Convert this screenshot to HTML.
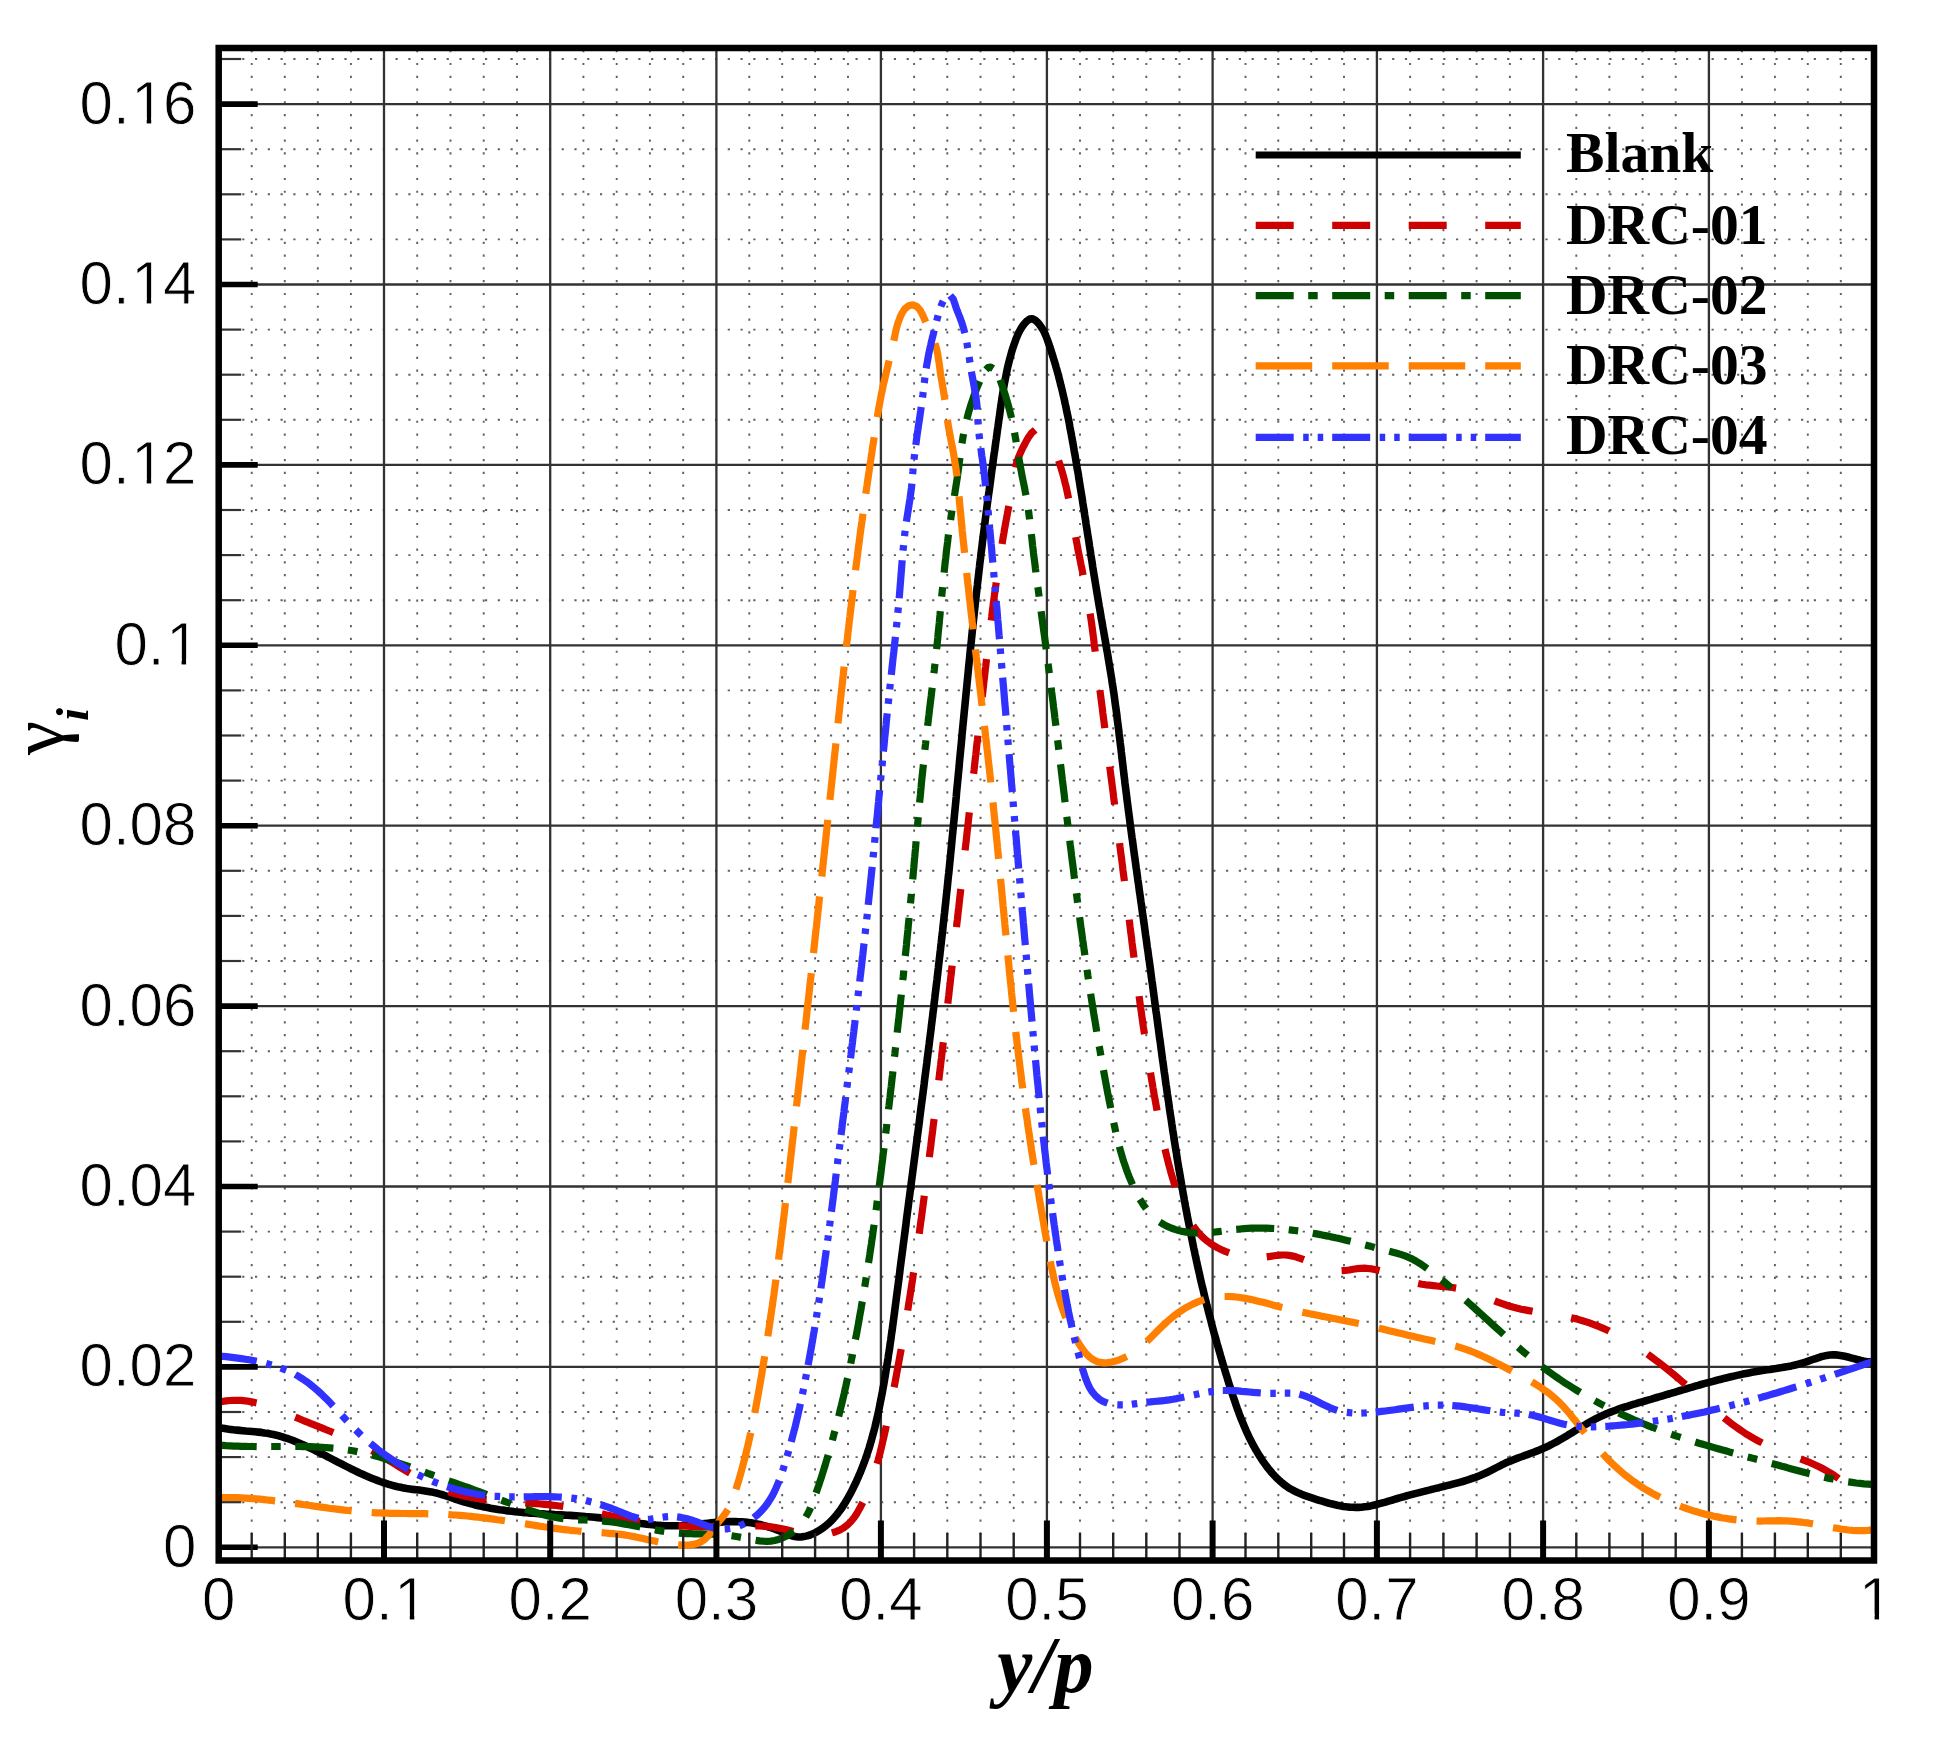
<!DOCTYPE html>
<html lang="en"><head><meta charset="utf-8"><title>Chart</title>
<style>html,body{margin:0;padding:0;background:#fff}svg{display:block}.tk{font-family:"Liberation Sans",sans-serif;font-size:60px;fill:#000;stroke:#fff;stroke-width:0.8px}.lg{font-family:"Liberation Serif",serif;font-weight:bold;font-size:57.6px;fill:#000}.ax{font-family:"Liberation Serif",serif;font-weight:bold;font-style:italic;fill:#000}</style></head><body>
<svg width="1935" height="1750" viewBox="0 0 1935 1750">
<rect width="1935" height="1750" fill="#fff"/>
<defs><filter id="soft" filterUnits="userSpaceOnUse" x="0" y="0" width="1935" height="1750"><feGaussianBlur stdDeviation="0.55"/></filter></defs>
<g filter="url(#soft)">
<defs><clipPath id="plot"><rect x="218.7" y="48.0" width="1655.3" height="1512.5"/></clipPath></defs>
<g stroke="#606060" stroke-width="1.9" fill="none" stroke-dasharray="2.2 10.577" clip-path="url(#plot)">
<path d="M251.7,37.35V1560.5"/>
<path d="M284.8,37.35V1560.5"/>
<path d="M317.8,37.35V1560.5"/>
<path d="M350.9,37.35V1560.5"/>
<path d="M417.2,37.35V1560.5"/>
<path d="M450.5,37.35V1560.5"/>
<path d="M483.7,37.35V1560.5"/>
<path d="M517.0,37.35V1560.5"/>
<path d="M583.4,37.35V1560.5"/>
<path d="M616.7,37.35V1560.5"/>
<path d="M649.9,37.35V1560.5"/>
<path d="M683.2,37.35V1560.5"/>
<path d="M749.3,37.35V1560.5"/>
<path d="M782.2,37.35V1560.5"/>
<path d="M815.1,37.35V1560.5"/>
<path d="M848.0,37.35V1560.5"/>
<path d="M914.1,37.35V1560.5"/>
<path d="M947.3,37.35V1560.5"/>
<path d="M980.5,37.35V1560.5"/>
<path d="M1013.7,37.35V1560.5"/>
<path d="M1080.0,37.35V1560.5"/>
<path d="M1113.2,37.35V1560.5"/>
<path d="M1146.3,37.35V1560.5"/>
<path d="M1179.5,37.35V1560.5"/>
<path d="M1245.5,37.35V1560.5"/>
<path d="M1278.3,37.35V1560.5"/>
<path d="M1311.2,37.35V1560.5"/>
<path d="M1344.0,37.35V1560.5"/>
<path d="M1410.1,37.35V1560.5"/>
<path d="M1443.4,37.35V1560.5"/>
<path d="M1476.6,37.35V1560.5"/>
<path d="M1509.9,37.35V1560.5"/>
<path d="M1576.3,37.35V1560.5"/>
<path d="M1609.4,37.35V1560.5"/>
<path d="M1642.6,37.35V1560.5"/>
<path d="M1675.7,37.35V1560.5"/>
<path d="M1741.9,37.35V1560.5"/>
<path d="M1774.9,37.35V1560.5"/>
<path d="M1807.8,37.35V1560.5"/>
<path d="M1840.8,37.35V1560.5"/>
<path d="M242.20,1502.2H1874.0"/>
<path d="M242.20,1457.1H1874.0"/>
<path d="M242.20,1412.0H1874.0"/>
<path d="M242.20,1321.8H1874.0"/>
<path d="M242.20,1276.7H1874.0"/>
<path d="M242.20,1231.6H1874.0"/>
<path d="M242.20,1141.4H1874.0"/>
<path d="M242.20,1096.3H1874.0"/>
<path d="M242.20,1051.2H1874.0"/>
<path d="M242.20,961.0H1874.0"/>
<path d="M242.20,915.9H1874.0"/>
<path d="M242.20,870.8H1874.0"/>
<path d="M242.20,780.6H1874.0"/>
<path d="M242.20,735.5H1874.0"/>
<path d="M242.20,690.4H1874.0"/>
<path d="M242.20,600.2H1874.0"/>
<path d="M242.20,555.1H1874.0"/>
<path d="M242.20,510.0H1874.0"/>
<path d="M242.20,419.8H1874.0"/>
<path d="M242.20,374.7H1874.0"/>
<path d="M242.20,329.6H1874.0"/>
<path d="M242.20,239.4H1874.0"/>
<path d="M242.20,194.3H1874.0"/>
<path d="M242.20,149.2H1874.0"/>
<path d="M242.20,59.0H1874.0"/>
</g>
<g stroke="#333" stroke-width="2.3" fill="none">
<path d="M384.0,48.0V1560.5"/>
<path d="M550.2,48.0V1560.5"/>
<path d="M716.4,48.0V1560.5"/>
<path d="M880.9,48.0V1560.5"/>
<path d="M1046.9,48.0V1560.5"/>
<path d="M1212.6,48.0V1560.5"/>
<path d="M1376.9,48.0V1560.5"/>
<path d="M1543.1,48.0V1560.5"/>
<path d="M1708.9,48.0V1560.5"/>
<path d="M218.7,1547.3H1874.0"/>
<path d="M218.7,1366.9H1874.0"/>
<path d="M218.7,1186.5H1874.0"/>
<path d="M218.7,1006.1H1874.0"/>
<path d="M218.7,825.7H1874.0"/>
<path d="M218.7,645.3H1874.0"/>
<path d="M218.7,464.9H1874.0"/>
<path d="M218.7,284.5H1874.0"/>
<path d="M218.7,104.1H1874.0"/>
</g>
<g fill="none" stroke-width="7.2" stroke-linejoin="round" clip-path="url(#plot)">
<path stroke="#000" stroke-width="7.6" d="M218.5,1427.3 L221.5,1428.0 L224.5,1428.5 L227.5,1429.0 L230.5,1429.4 L233.6,1429.8 L236.7,1430.1 L239.8,1430.4 L242.8,1430.7 L245.9,1431.0 L249.0,1431.2 L252.1,1431.5 L255.2,1431.8 L258.3,1432.1 L261.4,1432.4 L264.4,1432.9 L267.5,1433.3 L270.5,1433.9 L273.5,1434.5 L276.4,1435.2 L279.4,1436.0 L282.3,1436.8 L285.2,1437.8 L288.1,1438.7 L291.0,1439.8 L293.9,1440.9 L296.7,1442.0 L299.5,1443.2 L302.4,1444.4 L305.2,1445.7 L308.0,1447.0 L310.7,1448.3 L313.5,1449.6 L316.3,1451.0 L319.0,1452.4 L321.8,1453.8 L324.6,1455.2 L327.3,1456.6 L330.0,1458.0 L332.8,1459.5 L335.5,1460.9 L338.3,1462.3 L341.0,1463.7 L343.8,1465.1 L346.5,1466.5 L349.3,1467.9 L352.0,1469.3 L354.8,1470.6 L357.6,1472.0 L360.3,1473.3 L363.1,1474.5 L365.9,1475.8 L368.7,1477.0 L371.6,1478.2 L374.4,1479.3 L377.2,1480.4 L380.1,1481.5 L383.0,1482.5 L385.9,1483.4 L388.8,1484.3 L391.7,1485.2 L394.7,1486.0 L397.7,1486.7 L400.7,1487.3 L403.7,1487.9 L406.7,1488.5 L409.8,1488.9 L412.9,1489.4 L416.0,1489.7 L419.1,1490.1 L422.2,1490.5 L425.2,1490.9 L428.3,1491.4 L431.4,1491.9 L434.4,1492.6 L437.4,1493.3 L440.3,1494.1 L443.3,1495.0 L446.2,1496.0 L449.1,1497.0 L452.0,1498.0 L454.9,1499.0 L457.8,1499.9 L460.7,1500.9 L463.7,1501.8 L466.6,1502.6 L469.6,1503.4 L472.6,1504.2 L475.5,1505.0 L478.5,1505.7 L481.5,1506.3 L484.5,1507.0 L487.5,1507.6 L490.6,1508.2 L493.6,1508.7 L496.6,1509.2 L499.7,1509.7 L502.7,1510.1 L505.8,1510.6 L508.8,1510.9 L511.9,1511.3 L514.9,1511.7 L518.0,1512.0 L521.1,1512.3 L524.1,1512.6 L527.2,1512.8 L530.2,1513.1 L533.3,1513.3 L536.4,1513.5 L539.4,1513.7 L542.5,1513.9 L545.6,1514.1 L548.7,1514.2 L551.7,1514.4 L554.8,1514.6 L557.9,1514.7 L560.9,1514.9 L564.0,1515.1 L567.1,1515.3 L570.1,1515.4 L573.2,1515.6 L576.3,1515.8 L579.3,1516.0 L582.4,1516.2 L585.5,1516.5 L588.5,1516.7 L591.6,1517.0 L594.6,1517.3 L597.7,1517.6 L600.8,1517.9 L603.8,1518.3 L606.9,1518.7 L609.9,1519.1 L613.0,1519.5 L616.0,1519.9 L619.1,1520.4 L622.2,1520.8 L625.2,1521.3 L628.3,1521.7 L631.3,1522.1 L634.4,1522.6 L637.4,1523.0 L640.5,1523.4 L643.5,1523.8 L646.6,1524.2 L649.6,1524.5 L652.7,1524.8 L655.8,1525.1 L658.8,1525.3 L661.9,1525.5 L664.9,1525.7 L668.0,1525.8 L671.1,1525.8 L674.1,1525.8 L677.2,1525.8 L680.3,1525.7 L683.3,1525.5 L686.4,1525.3 L689.5,1525.0 L692.6,1524.8 L695.6,1524.5 L698.7,1524.2 L701.8,1523.8 L704.9,1523.5 L708.0,1523.2 L711.0,1522.9 L714.1,1522.6 L717.2,1522.3 L720.2,1522.1 L723.3,1521.9 L726.4,1521.7 L729.5,1521.6 L732.5,1521.6 L735.6,1521.6 L738.6,1521.7 L741.7,1521.9 L744.7,1522.1 L747.8,1522.4 L750.8,1522.8 L753.8,1523.3 L756.9,1523.9 L759.9,1524.5 L762.9,1525.3 L765.8,1526.1 L768.8,1527.0 L771.8,1527.9 L774.7,1529.0 L777.6,1530.1 L780.5,1531.3 L783.4,1532.5 L786.2,1533.7 L789.1,1534.9 L792.0,1535.8 L794.9,1536.6 L797.9,1537.0 L800.9,1537.0 L803.9,1536.6 L807.0,1535.9 L810.0,1535.0 L812.9,1533.8 L815.8,1532.4 L818.6,1530.8 L821.2,1529.1 L823.8,1527.3 L826.2,1525.4 L828.6,1523.4 L830.8,1521.3 L832.9,1519.1 L835.0,1516.8 L837.0,1514.4 L838.8,1512.0 L840.7,1509.5 L842.4,1507.0 L844.1,1504.4 L845.7,1501.7 L847.3,1499.1 L848.8,1496.4 L850.3,1493.7 L851.7,1491.0 L853.1,1488.2 L854.4,1485.5 L855.8,1482.7 L857.0,1479.9 L858.3,1477.1 L859.5,1474.3 L860.7,1471.5 L861.8,1468.6 L862.9,1465.8 L864.0,1462.9 L865.1,1460.0 L866.1,1457.1 L867.1,1454.2 L868.0,1451.3 L869.0,1448.4 L869.9,1445.5 L870.7,1442.5 L871.6,1439.6 L872.4,1436.6 L873.2,1433.6 L874.0,1430.7 L874.8,1427.7 L875.5,1424.7 L876.2,1421.7 L876.9,1418.7 L877.6,1415.7 L878.3,1412.7 L878.9,1409.7 L879.5,1406.6 L880.1,1403.6 L880.7,1400.6 L881.3,1397.6 L881.9,1394.5 L882.5,1391.5 L883.0,1388.5 L883.6,1385.4 L884.1,1382.4 L884.6,1379.3 L885.1,1376.3 L885.6,1373.3 L886.1,1370.2 L886.6,1367.2 L887.1,1364.1 L887.6,1361.1 L888.1,1358.1 L888.5,1355.0 L889.0,1352.0 L889.5,1348.9 L889.9,1345.9 L890.3,1342.8 L890.8,1339.8 L891.2,1336.7 L891.6,1333.7 L892.1,1330.7 L892.5,1327.6 L892.9,1324.6 L893.3,1321.5 L893.7,1318.5 L894.1,1315.4 L894.5,1312.4 L894.9,1309.3 L895.3,1306.3 L895.7,1303.2 L896.1,1300.2 L896.5,1297.1 L896.9,1294.1 L897.3,1291.0 L897.7,1288.0 L898.1,1284.9 L898.5,1281.9 L898.9,1278.9 L899.3,1275.8 L899.7,1272.8 L900.0,1269.7 L900.4,1266.7 L900.8,1263.6 L901.2,1260.6 L901.6,1257.5 L902.0,1254.5 L902.4,1251.4 L902.8,1248.4 L903.2,1245.3 L903.6,1242.3 L904.0,1239.2 L904.4,1236.2 L904.8,1233.1 L905.2,1230.1 L905.6,1227.0 L906.0,1224.0 L906.3,1220.9 L906.7,1217.9 L907.1,1214.8 L907.5,1211.8 L907.9,1208.7 L908.3,1205.7 L908.7,1202.6 L909.1,1199.6 L909.5,1196.5 L909.9,1193.5 L910.3,1190.5 L910.7,1187.4 L911.1,1184.4 L911.5,1181.3 L911.9,1178.3 L912.3,1175.2 L912.7,1172.2 L913.1,1169.1 L913.5,1166.1 L913.9,1163.0 L914.3,1160.0 L914.7,1156.9 L915.1,1153.9 L915.5,1150.8 L915.9,1147.8 L916.3,1144.7 L916.7,1141.7 L917.1,1138.6 L917.5,1135.6 L917.9,1132.5 L918.3,1129.5 L918.7,1126.4 L919.1,1123.4 L919.5,1120.3 L919.8,1117.3 L920.2,1114.2 L920.6,1111.2 L921.0,1108.1 L921.4,1105.1 L921.8,1102.0 L922.2,1099.0 L922.6,1095.9 L923.0,1092.9 L923.4,1089.8 L923.8,1086.8 L924.2,1083.7 L924.5,1080.7 L924.9,1077.6 L925.3,1074.6 L925.7,1071.5 L926.1,1068.5 L926.5,1065.4 L926.9,1062.4 L927.2,1059.3 L927.6,1056.3 L928.0,1053.2 L928.4,1050.1 L928.8,1047.1 L929.2,1044.0 L929.5,1041.0 L929.9,1037.9 L930.3,1034.9 L930.7,1031.8 L931.1,1028.8 L931.4,1025.7 L931.8,1022.7 L932.2,1019.6 L932.6,1016.6 L932.9,1013.5 L933.3,1010.5 L933.7,1007.4 L934.0,1004.4 L934.4,1001.3 L934.8,998.2 L935.1,995.2 L935.5,992.1 L935.9,989.1 L936.2,986.0 L936.6,983.0 L937.0,979.9 L937.3,976.9 L937.7,973.8 L938.0,970.8 L938.4,967.7 L938.7,964.6 L939.1,961.6 L939.4,958.5 L939.8,955.5 L940.1,952.4 L940.5,949.4 L940.8,946.3 L941.2,943.2 L941.5,940.2 L941.9,937.1 L942.2,934.1 L942.6,931.0 L942.9,928.0 L943.2,924.9 L943.6,921.8 L943.9,918.8 L944.2,915.7 L944.6,912.7 L944.9,909.6 L945.2,906.6 L945.6,903.5 L945.9,900.4 L946.2,897.4 L946.5,894.3 L946.9,891.3 L947.2,888.2 L947.5,885.1 L947.8,882.1 L948.1,879.0 L948.4,876.0 L948.8,872.9 L949.1,869.8 L949.4,866.8 L949.7,863.7 L950.0,860.7 L950.3,857.6 L950.6,854.5 L950.9,851.5 L951.2,848.4 L951.5,845.3 L951.8,842.3 L952.1,839.2 L952.4,836.2 L952.7,833.1 L953.0,830.0 L953.3,827.0 L953.6,823.9 L953.9,820.8 L954.2,817.8 L954.5,814.7 L954.8,811.7 L955.1,808.6 L955.4,805.5 L955.7,802.5 L956.0,799.4 L956.3,796.3 L956.5,793.3 L956.8,790.2 L957.1,787.2 L957.4,784.1 L957.7,781.0 L958.0,778.0 L958.3,774.9 L958.6,771.8 L958.9,768.8 L959.2,765.7 L959.4,762.7 L959.7,759.6 L960.0,756.5 L960.3,753.5 L960.6,750.4 L960.9,747.3 L961.2,744.3 L961.5,741.2 L961.8,738.2 L962.0,735.1 L962.3,732.0 L962.6,729.0 L962.9,725.9 L963.2,722.8 L963.5,719.8 L963.8,716.7 L964.1,713.7 L964.4,710.6 L964.7,707.5 L965.0,704.5 L965.3,701.4 L965.6,698.3 L965.9,695.3 L966.2,692.2 L966.5,689.2 L966.8,686.1 L967.1,683.0 L967.4,680.0 L967.7,676.9 L968.0,673.9 L968.3,670.8 L968.6,667.7 L968.9,664.7 L969.2,661.6 L969.5,658.6 L969.8,655.5 L970.1,652.4 L970.4,649.4 L970.7,646.3 L971.1,643.3 L971.4,640.2 L971.7,637.1 L972.0,634.1 L972.3,631.0 L972.7,628.0 L973.0,624.9 L973.3,621.9 L973.6,618.8 L974.0,615.7 L974.3,612.7 L974.6,609.6 L975.0,606.6 L975.3,603.5 L975.6,600.5 L976.0,597.4 L976.3,594.3 L976.7,591.3 L977.0,588.2 L977.4,585.2 L977.7,582.1 L978.1,579.1 L978.4,576.0 L978.8,573.0 L979.1,569.9 L979.5,566.9 L979.8,563.8 L980.2,560.8 L980.6,557.7 L980.9,554.6 L981.3,551.6 L981.7,548.5 L982.1,545.5 L982.4,542.4 L982.8,539.4 L983.2,536.3 L983.6,533.3 L984.0,530.2 L984.4,527.2 L984.8,524.1 L985.1,521.1 L985.5,518.0 L985.9,515.0 L986.3,511.9 L986.7,508.9 L987.1,505.8 L987.5,502.8 L987.9,499.8 L988.3,496.7 L988.7,493.7 L989.2,490.6 L989.6,487.6 L990.0,484.5 L990.4,481.5 L990.8,478.4 L991.2,475.4 L991.6,472.3 L992.0,469.3 L992.5,466.2 L992.9,463.2 L993.3,460.1 L993.7,457.1 L994.1,454.0 L994.6,451.0 L995.0,447.9 L995.4,444.9 L995.8,441.8 L996.3,438.8 L996.7,435.7 L997.1,432.7 L997.5,429.6 L998.0,426.6 L998.4,423.5 L998.8,420.5 L999.3,417.4 L999.7,414.4 L1000.1,411.3 L1000.5,408.3 L1001.0,405.2 L1001.4,402.2 L1001.9,399.2 L1002.3,396.1 L1002.8,393.1 L1003.3,390.0 L1003.8,387.0 L1004.3,384.0 L1004.9,381.0 L1005.5,377.9 L1006.1,374.9 L1006.7,371.9 L1007.3,368.9 L1008.0,365.9 L1008.7,363.0 L1009.5,360.0 L1010.3,357.0 L1011.1,354.1 L1011.9,351.1 L1012.8,348.2 L1013.8,345.3 L1014.8,342.4 L1015.8,339.5 L1017.0,336.6 L1018.2,333.7 L1019.6,331.0 L1021.1,328.3 L1022.9,325.6 L1024.9,323.1 L1027.2,320.8 L1029.7,319.1 L1032.3,318.8 L1034.8,319.9 L1037.1,321.9 L1039.3,324.3 L1041.1,326.9 L1042.8,329.5 L1044.3,332.3 L1045.6,335.1 L1046.7,338.0 L1047.8,340.9 L1048.8,343.8 L1049.8,346.7 L1050.8,349.7 L1051.7,352.6 L1052.6,355.5 L1053.5,358.5 L1054.4,361.4 L1055.3,364.3 L1056.1,367.3 L1057.0,370.2 L1057.8,373.2 L1058.6,376.1 L1059.3,379.1 L1060.1,382.1 L1060.8,385.1 L1061.6,388.0 L1062.3,391.0 L1063.0,394.0 L1063.7,397.0 L1064.4,400.0 L1065.0,403.0 L1065.7,406.0 L1066.3,409.0 L1066.9,412.1 L1067.6,415.1 L1068.2,418.1 L1068.8,421.1 L1069.4,424.1 L1069.9,427.2 L1070.5,430.2 L1071.1,433.2 L1071.6,436.2 L1072.2,439.3 L1072.7,442.3 L1073.3,445.3 L1073.8,448.4 L1074.3,451.4 L1074.9,454.4 L1075.4,457.5 L1075.9,460.5 L1076.4,463.5 L1076.9,466.6 L1077.4,469.6 L1078.0,472.6 L1078.5,475.7 L1078.9,478.7 L1079.4,481.7 L1079.9,484.8 L1080.4,487.8 L1080.9,490.9 L1081.4,493.9 L1081.9,496.9 L1082.4,500.0 L1082.8,503.0 L1083.3,506.0 L1083.8,509.1 L1084.3,512.1 L1084.7,515.1 L1085.2,518.2 L1085.7,521.2 L1086.1,524.3 L1086.6,527.3 L1087.1,530.3 L1087.5,533.4 L1088.0,536.4 L1088.5,539.4 L1089.0,542.5 L1089.4,545.5 L1089.9,548.6 L1090.4,551.6 L1090.8,554.6 L1091.3,557.7 L1091.8,560.7 L1092.3,563.7 L1092.7,566.8 L1093.2,569.8 L1093.7,572.9 L1094.2,575.9 L1094.7,578.9 L1095.2,582.0 L1095.7,585.0 L1096.2,588.0 L1096.7,591.1 L1097.2,594.1 L1097.7,597.1 L1098.2,600.2 L1098.7,603.2 L1099.2,606.2 L1099.8,609.3 L1100.3,612.3 L1100.8,615.3 L1101.3,618.4 L1101.9,621.4 L1102.4,624.4 L1102.9,627.4 L1103.5,630.5 L1104.0,633.5 L1104.5,636.5 L1105.1,639.6 L1105.6,642.6 L1106.1,645.6 L1106.6,648.7 L1107.2,651.7 L1107.7,654.7 L1108.2,657.8 L1108.7,660.8 L1109.2,663.8 L1109.7,666.9 L1110.2,669.9 L1110.7,673.0 L1111.2,676.0 L1111.7,679.0 L1112.1,682.1 L1112.6,685.1 L1113.1,688.2 L1113.5,691.2 L1114.0,694.2 L1114.4,697.3 L1114.8,700.3 L1115.2,703.4 L1115.6,706.4 L1116.1,709.5 L1116.5,712.5 L1116.9,715.6 L1117.2,718.6 L1117.6,721.7 L1118.0,724.7 L1118.4,727.8 L1118.8,730.8 L1119.1,733.9 L1119.5,736.9 L1119.9,740.0 L1120.2,743.0 L1120.6,746.1 L1121.0,749.1 L1121.3,752.2 L1121.7,755.3 L1122.0,758.3 L1122.4,761.4 L1122.8,764.4 L1123.1,767.5 L1123.5,770.5 L1123.8,773.6 L1124.2,776.6 L1124.6,779.7 L1124.9,782.7 L1125.3,785.8 L1125.7,788.8 L1126.1,791.9 L1126.5,794.9 L1126.8,798.0 L1127.2,801.0 L1127.6,804.1 L1128.0,807.1 L1128.4,810.2 L1128.8,813.2 L1129.2,816.3 L1129.6,819.3 L1130.0,822.4 L1130.4,825.4 L1130.8,828.5 L1131.2,831.5 L1131.6,834.6 L1132.0,837.6 L1132.5,840.7 L1132.9,843.7 L1133.3,846.8 L1133.7,849.8 L1134.1,852.8 L1134.5,855.9 L1135.0,858.9 L1135.4,862.0 L1135.8,865.0 L1136.2,868.1 L1136.7,871.1 L1137.1,874.2 L1137.5,877.2 L1137.9,880.3 L1138.4,883.3 L1138.8,886.3 L1139.2,889.4 L1139.6,892.4 L1140.1,895.5 L1140.5,898.5 L1140.9,901.6 L1141.4,904.6 L1141.8,907.7 L1142.2,910.7 L1142.6,913.7 L1143.1,916.8 L1143.5,919.8 L1143.9,922.9 L1144.4,925.9 L1144.8,929.0 L1145.2,932.0 L1145.6,935.1 L1146.1,938.1 L1146.5,941.2 L1146.9,944.2 L1147.3,947.3 L1147.8,950.3 L1148.2,953.3 L1148.6,956.4 L1149.0,959.4 L1149.5,962.5 L1149.9,965.5 L1150.3,968.6 L1150.7,971.6 L1151.1,974.7 L1151.5,977.7 L1151.9,980.8 L1152.4,983.8 L1152.8,986.9 L1153.2,989.9 L1153.6,993.0 L1154.0,996.0 L1154.4,999.1 L1154.8,1002.1 L1155.2,1005.2 L1155.6,1008.2 L1156.0,1011.3 L1156.5,1014.3 L1156.9,1017.4 L1157.3,1020.4 L1157.7,1023.5 L1158.1,1026.5 L1158.5,1029.6 L1158.9,1032.6 L1159.3,1035.7 L1159.7,1038.7 L1160.2,1041.8 L1160.6,1044.8 L1161.0,1047.9 L1161.4,1050.9 L1161.8,1054.0 L1162.2,1057.0 L1162.6,1060.1 L1163.1,1063.1 L1163.5,1066.2 L1163.9,1069.2 L1164.3,1072.3 L1164.8,1075.3 L1165.2,1078.4 L1165.6,1081.4 L1166.0,1084.5 L1166.5,1087.5 L1166.9,1090.5 L1167.3,1093.6 L1167.8,1096.6 L1168.2,1099.7 L1168.7,1102.7 L1169.1,1105.8 L1169.5,1108.8 L1170.0,1111.9 L1170.4,1114.9 L1170.9,1117.9 L1171.4,1121.0 L1171.8,1124.0 L1172.3,1127.1 L1172.7,1130.1 L1173.2,1133.1 L1173.7,1136.2 L1174.1,1139.2 L1174.6,1142.3 L1175.1,1145.3 L1175.6,1148.3 L1176.1,1151.4 L1176.6,1154.4 L1177.0,1157.4 L1177.5,1160.5 L1178.0,1163.5 L1178.5,1166.5 L1179.0,1169.6 L1179.6,1172.6 L1180.1,1175.6 L1180.6,1178.7 L1181.1,1181.7 L1181.6,1184.7 L1182.2,1187.8 L1182.7,1190.8 L1183.2,1193.8 L1183.8,1196.8 L1184.3,1199.9 L1184.9,1202.9 L1185.4,1205.9 L1186.0,1208.9 L1186.6,1211.9 L1187.1,1215.0 L1187.7,1218.0 L1188.3,1221.0 L1188.9,1224.0 L1189.5,1227.0 L1190.1,1230.1 L1190.7,1233.1 L1191.3,1236.1 L1191.9,1239.1 L1192.5,1242.1 L1193.1,1245.1 L1193.7,1248.1 L1194.4,1251.1 L1195.0,1254.1 L1195.7,1257.1 L1196.3,1260.1 L1197.0,1263.2 L1197.6,1266.2 L1198.3,1269.2 L1199.0,1272.2 L1199.7,1275.2 L1200.3,1278.2 L1201.0,1281.2 L1201.7,1284.1 L1202.4,1287.1 L1203.2,1290.1 L1203.9,1293.1 L1204.6,1296.1 L1205.3,1299.1 L1206.1,1302.1 L1206.8,1305.1 L1207.6,1308.1 L1208.3,1311.0 L1209.1,1314.0 L1209.9,1317.0 L1210.7,1320.0 L1211.4,1323.0 L1212.2,1325.9 L1213.0,1328.9 L1213.8,1331.9 L1214.6,1334.9 L1215.5,1337.8 L1216.3,1340.8 L1217.1,1343.8 L1218.0,1346.7 L1218.8,1349.7 L1219.7,1352.6 L1220.5,1355.6 L1221.4,1358.5 L1222.2,1361.5 L1223.1,1364.4 L1224.0,1367.4 L1224.9,1370.3 L1225.8,1373.3 L1226.7,1376.2 L1227.6,1379.2 L1228.5,1382.1 L1229.4,1385.0 L1230.4,1387.9 L1231.3,1390.9 L1232.3,1393.8 L1233.2,1396.7 L1234.2,1399.6 L1235.2,1402.5 L1236.2,1405.4 L1237.2,1408.3 L1238.3,1411.2 L1239.3,1414.1 L1240.4,1416.9 L1241.5,1419.8 L1242.7,1422.6 L1243.9,1425.5 L1245.1,1428.3 L1246.3,1431.1 L1247.6,1433.9 L1248.9,1436.7 L1250.3,1439.4 L1251.7,1442.2 L1253.1,1444.9 L1254.6,1447.6 L1256.1,1450.3 L1257.7,1452.9 L1259.3,1455.6 L1261.0,1458.2 L1262.7,1460.8 L1264.5,1463.4 L1266.3,1465.9 L1268.2,1468.4 L1270.2,1470.8 L1272.2,1473.2 L1274.3,1475.5 L1276.4,1477.7 L1278.6,1479.8 L1280.9,1481.9 L1283.2,1483.8 L1285.6,1485.7 L1288.1,1487.4 L1290.7,1489.0 L1293.3,1490.4 L1296.0,1491.8 L1298.8,1493.1 L1301.6,1494.3 L1304.4,1495.4 L1307.3,1496.4 L1310.3,1497.4 L1313.2,1498.4 L1316.2,1499.4 L1319.2,1500.3 L1322.2,1501.2 L1325.2,1502.1 L1328.2,1503.0 L1331.2,1503.8 L1334.3,1504.5 L1337.3,1505.2 L1340.3,1505.8 L1343.4,1506.4 L1346.4,1506.8 L1349.5,1507.1 L1352.5,1507.3 L1355.5,1507.4 L1358.5,1507.4 L1361.6,1507.2 L1364.6,1506.8 L1367.6,1506.4 L1370.6,1505.9 L1373.6,1505.2 L1376.5,1504.5 L1379.5,1503.7 L1382.5,1502.9 L1385.5,1502.1 L1388.5,1501.2 L1391.4,1500.3 L1394.4,1499.4 L1397.4,1498.5 L1400.3,1497.7 L1403.3,1496.8 L1406.2,1496.0 L1409.2,1495.2 L1412.2,1494.4 L1415.1,1493.6 L1418.1,1492.9 L1421.1,1492.1 L1424.0,1491.4 L1427.0,1490.6 L1430.0,1489.9 L1432.9,1489.1 L1435.9,1488.4 L1438.9,1487.7 L1441.8,1486.9 L1444.8,1486.2 L1447.8,1485.4 L1450.8,1484.7 L1453.7,1483.9 L1456.7,1483.1 L1459.7,1482.3 L1462.7,1481.5 L1465.6,1480.6 L1468.6,1479.7 L1471.5,1478.7 L1474.4,1477.7 L1477.3,1476.6 L1480.1,1475.5 L1482.9,1474.3 L1485.7,1473.0 L1488.5,1471.7 L1491.2,1470.3 L1494.0,1468.9 L1496.7,1467.5 L1499.5,1466.1 L1502.2,1464.7 L1505.0,1463.3 L1507.8,1462.1 L1510.7,1460.9 L1513.5,1459.7 L1516.4,1458.6 L1519.3,1457.5 L1522.2,1456.5 L1525.1,1455.4 L1528.0,1454.4 L1530.9,1453.3 L1533.8,1452.2 L1536.6,1451.1 L1539.5,1450.0 L1542.3,1448.8 L1545.1,1447.6 L1547.9,1446.3 L1550.6,1444.9 L1553.3,1443.5 L1556.0,1442.1 L1558.7,1440.6 L1561.4,1439.0 L1564.0,1437.5 L1566.7,1435.9 L1569.3,1434.3 L1572.0,1432.7 L1574.6,1431.1 L1577.2,1429.4 L1579.9,1427.8 L1582.5,1426.2 L1585.2,1424.7 L1587.9,1423.1 L1590.6,1421.6 L1593.3,1420.1 L1596.0,1418.7 L1598.7,1417.3 L1601.5,1416.0 L1604.3,1414.8 L1607.1,1413.5 L1609.9,1412.4 L1612.8,1411.3 L1615.7,1410.2 L1618.5,1409.2 L1621.4,1408.2 L1624.3,1407.2 L1627.3,1406.3 L1630.2,1405.3 L1633.1,1404.4 L1636.1,1403.6 L1639.0,1402.7 L1642.0,1401.8 L1644.9,1401.0 L1647.9,1400.1 L1650.8,1399.3 L1653.8,1398.4 L1656.8,1397.5 L1659.7,1396.7 L1662.7,1395.8 L1665.6,1394.9 L1668.6,1394.0 L1671.6,1393.2 L1674.5,1392.3 L1677.5,1391.4 L1680.4,1390.5 L1683.4,1389.7 L1686.3,1388.8 L1689.3,1387.9 L1692.3,1387.1 L1695.2,1386.2 L1698.2,1385.4 L1701.1,1384.5 L1704.1,1383.7 L1707.1,1382.9 L1710.0,1382.1 L1713.0,1381.3 L1716.0,1380.5 L1719.0,1379.7 L1721.9,1379.0 L1724.9,1378.2 L1727.9,1377.5 L1730.9,1376.8 L1733.9,1376.1 L1736.9,1375.4 L1739.8,1374.8 L1742.8,1374.1 L1745.8,1373.5 L1748.8,1372.9 L1751.9,1372.3 L1754.9,1371.8 L1757.9,1371.3 L1760.9,1370.8 L1763.9,1370.3 L1766.9,1369.8 L1770.0,1369.4 L1773.0,1368.9 L1776.0,1368.5 L1779.1,1368.0 L1782.1,1367.6 L1785.1,1367.0 L1788.1,1366.5 L1791.2,1365.9 L1794.2,1365.2 L1797.2,1364.5 L1800.1,1363.7 L1803.1,1362.8 L1806.1,1361.9 L1809.0,1360.9 L1812.0,1359.8 L1814.9,1358.8 L1817.9,1357.8 L1820.8,1356.8 L1823.8,1356.1 L1826.8,1355.4 L1829.7,1355.0 L1832.7,1354.8 L1835.7,1354.9 L1838.8,1355.2 L1841.8,1355.7 L1844.8,1356.3 L1847.9,1357.0 L1850.9,1357.8 L1854.0,1358.7 L1857.0,1359.5 L1860.1,1360.3 L1863.1,1361.0 L1866.0,1361.5 L1869.0,1361.9 L1871.9,1362.0"/>
<path stroke="#cc0000" d="M218.5,1402.3L222.3,1401.5L226.1,1400.9L229.9,1400.5L233.7,1400.3L237.5,1400.3L241.3,1400.4L245.1,1400.8L249.0,1401.4L252.8,1402.1L256.6,1402.9M295.2,1417.2L299.0,1418.7L302.8,1420.3L306.6,1421.8L310.4,1423.4L314.2,1424.9L318.0,1426.4L321.8,1427.9L325.6,1429.5L329.4,1431.0L333.3,1432.6M371.8,1450.6L375.7,1452.7L379.5,1454.9L383.3,1457.1L387.1,1459.4L390.9,1461.7L394.7,1464.0L398.5,1466.4L402.3,1468.7L406.1,1471.0L409.9,1473.2M448.5,1491.7L452.3,1493.0L456.1,1494.1L460.0,1495.1L463.8,1496.0L467.6,1496.8L471.4,1497.5L475.2,1498.2L479.0,1498.8L482.8,1499.4L486.6,1499.9M525.2,1503.0L529.0,1503.2L532.8,1503.5L536.6,1503.7L540.4,1504.0L544.3,1504.3L548.1,1504.7L551.9,1505.1L555.7,1505.5L559.5,1506.0L563.3,1506.5M601.9,1513.8L605.7,1514.7L609.5,1515.5L613.3,1516.3L617.1,1517.1L620.9,1517.9L624.8,1518.7L628.6,1519.4L632.4,1520.1L636.2,1520.8L640.0,1521.4M678.6,1525.7L682.4,1526.0L686.2,1526.2L690.0,1526.3L693.8,1526.5L697.6,1526.6L701.4,1526.7L705.2,1526.7L709.1,1526.8L712.9,1526.8L716.7,1526.8M755.3,1526.0L759.1,1526.0L762.9,1526.2L766.7,1526.4L770.5,1526.8L774.3,1527.3L778.1,1528.0L781.9,1528.8L785.7,1529.6L789.5,1530.5L793.4,1531.4M831.9,1532.9L835.8,1531.7L839.6,1530.2L843.4,1528.0L847.2,1525.2L850.9,1521.5L854.0,1517.7L856.6,1513.9L858.8,1510.0L860.9,1506.2L862.8,1502.4M877.1,1463.8L878.2,1460.0L879.2,1456.2L880.2,1452.4L881.1,1448.6L882.0,1444.8L882.9,1441.0L883.8,1437.2L884.6,1433.4L885.5,1429.6L886.3,1425.7M894.1,1387.2L894.9,1383.3L895.6,1379.5L896.3,1375.7L897.0,1371.9L897.7,1368.1L898.4,1364.3L899.1,1360.5L899.8,1356.7L900.5,1352.9L901.2,1349.1M907.7,1310.5L908.3,1306.7L908.9,1302.9L909.5,1299.0L910.1,1295.2L910.7,1291.4L911.3,1287.6L911.9,1283.8L912.5,1280.0L913.0,1276.2L913.6,1272.4M919.2,1233.8L919.7,1230.0L920.2,1226.2L920.7,1222.4L921.3,1218.6L921.8,1214.7L922.3,1210.9L922.8,1207.1L923.3,1203.3L923.8,1199.5L924.3,1195.7M929.3,1157.1L929.8,1153.3L930.3,1149.5L930.8,1145.7L931.2,1141.9L931.7,1138.1L932.2,1134.2L932.7,1130.4L933.1,1126.6L933.6,1122.8L934.1,1119.0M938.8,1080.4L939.2,1076.6L939.7,1072.8L940.1,1069.0L940.6,1065.2L941.0,1061.4L941.5,1057.6L941.9,1053.8L942.4,1049.9L942.8,1046.1L943.3,1042.3M947.8,1003.7L948.2,999.9L948.7,996.1L949.1,992.3L949.5,988.5L950.0,984.7L950.4,980.9L950.8,977.1L951.3,973.3L951.7,969.5L952.1,965.6M956.5,927.1L956.9,923.2L957.4,919.4L957.8,915.6L958.2,911.8L958.7,908.0L959.1,904.2L959.5,900.4L959.9,896.6L960.4,892.8L960.8,889.0M965.1,850.4L965.5,846.6L966.0,842.8L966.4,838.9L966.8,835.1L967.2,831.3L967.7,827.5L968.1,823.7L968.5,819.9L968.9,816.1L969.3,812.3M973.6,773.7L974.1,769.9L974.5,766.1L974.9,762.3L975.3,758.5L975.8,754.6L976.2,750.8L976.6,747.0L977.0,743.2L977.5,739.4L977.9,735.6M982.2,697.0L982.7,693.2L983.1,689.4L983.5,685.6L983.9,681.8L984.4,678.0L984.8,674.2L985.2,670.4L985.7,666.6L986.1,662.8L986.5,659.0M991.2,620.5L991.7,616.7L992.1,612.9L992.6,609.1L993.1,605.3L993.6,601.5L994.1,597.7L994.6,593.9L995.2,590.1L995.7,586.3L996.2,582.5M1002.1,544.0L1002.7,540.2L1003.3,536.4L1004.0,532.6L1004.6,528.8L1005.3,525.0L1006.0,521.2L1006.7,517.4L1007.4,513.6L1008.1,509.8L1008.8,506.0M1015.5,467.5L1016.4,463.7L1017.6,459.9L1019.0,456.1L1020.7,452.3L1022.4,448.5L1024.4,444.7L1026.4,440.9L1028.6,437.1L1031.3,433.3L1035.2,429.9M1058.6,460.6L1059.9,464.4L1061.1,468.2L1062.2,472.0L1063.3,475.8L1064.3,479.6L1065.2,483.4L1066.2,487.2L1067.0,491.0L1067.8,494.8L1068.6,498.6M1075.7,537.1L1076.4,540.9L1077.1,544.7L1077.8,548.5L1078.5,552.3L1079.3,556.1L1080.1,559.9L1080.8,563.7L1081.6,567.5L1082.4,571.3L1083.1,575.1M1090.1,613.6L1090.7,617.4L1091.3,621.2L1091.8,625.0L1092.3,628.8L1092.8,632.6L1093.3,636.4L1093.8,640.2L1094.2,644.0L1094.7,647.8L1095.2,651.6M1099.9,690.1L1100.4,693.9L1100.9,697.7L1101.4,701.5L1101.9,705.3L1102.4,709.1L1102.8,712.9L1103.3,716.7L1103.8,720.5L1104.3,724.3L1104.8,728.1M1109.7,766.6L1110.2,770.4L1110.7,774.2L1111.2,778.0L1111.7,781.8L1112.2,785.6L1112.7,789.4L1113.2,793.2L1113.6,797.0L1114.1,800.8L1114.6,804.6M1119.6,843.1L1120.0,846.9L1120.5,850.7L1121.0,854.5L1121.5,858.3L1122.0,862.1L1122.5,865.9L1122.9,869.7L1123.4,873.5L1123.9,877.3L1124.4,881.1M1129.2,919.6L1129.7,923.4L1130.1,927.2L1130.6,931.0L1131.1,934.8L1131.6,938.6L1132.0,942.4L1132.5,946.2L1133.0,950.0L1133.5,953.8L1134.0,957.6M1139.1,996.1L1139.6,999.9L1140.1,1003.7L1140.6,1007.5L1141.2,1011.3L1141.7,1015.1L1142.2,1018.9L1142.8,1022.7L1143.3,1026.5L1143.9,1030.3L1144.5,1034.1M1150.5,1072.6L1151.1,1076.4L1151.7,1080.2L1152.4,1084.0L1153.0,1087.8L1153.7,1091.6L1154.3,1095.4L1155.0,1099.2L1155.7,1103.0L1156.4,1106.8L1157.1,1110.6M1165.0,1149.1L1165.9,1152.9L1166.8,1156.7L1167.8,1160.5L1168.7,1164.3L1169.8,1168.1L1170.8,1171.9L1171.9,1175.7L1173.0,1179.5L1174.2,1183.3L1175.4,1187.1M1193.0,1225.6L1195.7,1229.4L1198.9,1233.2L1202.5,1237.0L1206.3,1240.4L1210.1,1243.2L1213.9,1245.7L1217.7,1247.9L1221.5,1249.8L1225.3,1251.4L1229.1,1252.8M1266.7,1256.9L1270.5,1256.4L1274.2,1255.8L1277.9,1255.3L1281.6,1255.0L1285.3,1255.0L1289.1,1255.4L1292.8,1256.1L1296.5,1257.1L1300.2,1258.3L1303.9,1259.7M1341.6,1270.7L1345.4,1270.5L1349.2,1270.0L1353.0,1269.3L1356.8,1268.7L1360.6,1268.3L1364.4,1268.2L1368.2,1268.5L1372.0,1268.9L1375.8,1269.7L1379.6,1270.6M1418.1,1283.4L1421.9,1284.2L1425.7,1284.8L1429.5,1285.2L1433.3,1285.6L1437.1,1286.0L1440.9,1286.3L1444.7,1286.6L1448.5,1287.0L1452.3,1287.5L1456.1,1288.1M1494.6,1300.8L1498.4,1302.3L1502.2,1303.7L1506.0,1305.0L1509.8,1306.2L1513.6,1307.3L1517.4,1308.3L1521.2,1309.2L1525.0,1309.9L1528.8,1310.6L1532.6,1311.3M1571.1,1317.7L1574.9,1318.6L1578.7,1319.6L1582.5,1320.7L1586.3,1321.9L1590.1,1323.2L1593.9,1324.6L1597.7,1326.0L1601.5,1327.6L1605.3,1329.3L1609.1,1331.1M1647.6,1354.2L1651.4,1357.0L1655.2,1359.8L1659.0,1362.7L1662.8,1365.7L1666.6,1368.7L1670.4,1371.8L1674.2,1374.9L1678.0,1378.1L1681.8,1381.4L1685.6,1384.6M1724.1,1417.9L1727.9,1420.9L1731.7,1423.8L1735.5,1426.6L1739.3,1429.3L1743.1,1431.9L1746.9,1434.4L1750.7,1436.7L1754.5,1438.9L1758.3,1441.0L1762.1,1442.9M1800.6,1458.8L1804.4,1460.3L1808.2,1461.8L1812.0,1463.5L1815.8,1465.2L1819.6,1467.0L1823.4,1469.0L1827.2,1471.1L1831.0,1473.3L1834.8,1475.8L1838.6,1478.6"/>
<path stroke="#005000" d="M218.5,1445.1L222.4,1445.4L226.2,1445.7L230.0,1445.9L233.8,1446.1L237.6,1446.2L241.4,1446.3L245.2,1446.4L249.0,1446.5L252.8,1446.5L256.7,1446.6M271.2,1446.5L274.4,1446.5L277.5,1446.5L280.7,1446.5M295.3,1446.5L299.1,1446.5L302.9,1446.6L306.7,1446.6L310.5,1446.7L314.3,1446.9L318.1,1447.1L321.9,1447.3L325.8,1447.5L329.6,1447.8L333.4,1448.1M347.9,1450.0L351.1,1450.5L354.3,1451.0L357.4,1451.7M372.0,1455.0L375.8,1456.1L379.6,1457.1L383.4,1458.2L387.2,1459.4L391.0,1460.6L394.8,1461.8L398.7,1463.1L402.5,1464.4L406.3,1465.7L410.1,1467.0M424.6,1472.2L427.8,1473.4L431.0,1474.5L434.2,1475.6M448.7,1480.8L452.5,1482.1L456.3,1483.5L460.1,1484.8L463.9,1486.2L467.8,1487.5L471.6,1488.9L475.4,1490.3L479.2,1491.7L483.0,1493.1L486.8,1494.6M501.4,1500.1L504.5,1501.3L507.7,1502.5L510.9,1503.7M525.4,1509.0L529.2,1510.3L533.0,1511.5L536.9,1512.7L540.7,1513.9L544.5,1514.9L548.3,1515.9L552.1,1516.8L555.9,1517.5L559.7,1518.2L563.5,1518.7M578.1,1519.8L581.2,1519.9L584.4,1520.0L587.6,1520.1M602.1,1520.9L605.9,1521.3L609.8,1521.7L613.6,1522.2L617.4,1522.8L621.2,1523.4L625.0,1524.1L628.8,1524.8L632.6,1525.5L636.4,1526.3L640.2,1527.0M654.8,1529.8L658.0,1530.4L661.1,1530.9L664.3,1531.4M678.9,1533.1L682.7,1533.4L686.5,1533.6L690.3,1533.7L694.1,1533.8L697.9,1533.9L701.7,1533.9L705.5,1534.0L709.3,1534.1L713.2,1534.2L717.0,1534.4M731.5,1535.7L734.7,1536.2L737.9,1536.8L741.0,1537.4M755.6,1540.3L759.4,1540.9L763.2,1541.2L767.0,1541.3L770.8,1541.1L774.6,1540.5L778.4,1539.5L782.2,1538.1L786.1,1536.3L789.9,1534.0L793.7,1531.2M805.8,1517.1L807.6,1513.9L809.2,1510.8L810.6,1507.6M816.1,1493.0L817.4,1489.2L818.7,1485.4L819.9,1481.6L821.2,1477.8L822.4,1474.0L823.6,1470.2L824.8,1466.4L825.9,1462.5L827.1,1458.7L828.2,1454.9M832.3,1440.4L833.2,1437.2L834.0,1434.0L834.9,1430.9M838.7,1416.3L839.6,1412.5L840.5,1408.7L841.5,1404.9L842.4,1401.1L843.3,1397.3L844.2,1393.5L845.0,1389.6L845.9,1385.8L846.7,1382.0L847.6,1378.2M850.7,1363.7L851.3,1360.5L852.0,1357.3L852.6,1354.1M855.4,1339.6L856.2,1335.8L856.9,1332.0L857.6,1328.2L858.3,1324.4L859.0,1320.5L859.6,1316.7L860.3,1312.9L861.0,1309.1L861.6,1305.3L862.3,1301.5M864.7,1286.9L865.2,1283.8L865.7,1280.6L866.2,1277.4M868.5,1262.9L869.1,1259.1L869.7,1255.3L870.2,1251.4L870.8,1247.6L871.4,1243.8L871.9,1240.0L872.5,1236.2L873.0,1232.4L873.5,1228.6L874.1,1224.8M876.1,1210.2L876.5,1207.1L876.9,1203.9L877.3,1200.7M879.2,1186.2L879.7,1182.4L880.2,1178.5L880.7,1174.7L881.2,1170.9L881.6,1167.1L882.1,1163.3L882.6,1159.5L883.0,1155.7L883.5,1151.9L884.0,1148.1M885.7,1133.5L886.1,1130.3L886.5,1127.2L886.8,1124.0M888.5,1109.4L889.0,1105.6L889.4,1101.8L889.9,1098.0L890.3,1094.2L890.7,1090.4L891.2,1086.6L891.6,1082.8L892.0,1079.0L892.5,1075.1L892.9,1071.3M894.5,1056.8L894.9,1053.6L895.2,1050.4L895.6,1047.3M897.2,1032.7L897.6,1028.9L898.0,1025.1L898.4,1021.3L898.9,1017.5L899.3,1013.7L899.7,1009.9L900.1,1006.0L900.5,1002.2L900.9,998.4L901.3,994.6M902.8,980.1L903.2,976.9L903.5,973.7L903.8,970.5M905.3,956.0L905.7,952.2L906.1,948.4L906.5,944.6L906.8,940.8L907.2,937.0L907.6,933.1L908.0,929.3L908.3,925.5L908.7,921.7L909.1,917.9M910.5,903.4L910.8,900.2L911.1,897.0L911.4,893.8M912.7,879.3L913.1,875.5L913.4,871.7L913.8,867.9L914.1,864.0L914.4,860.2L914.8,856.4L915.1,852.6L915.5,848.8L915.8,845.0L916.1,841.2M917.4,826.6L917.7,823.5L918.0,820.3L918.3,817.1M919.6,802.6L920.0,798.8L920.4,794.9L920.7,791.1L921.1,787.3L921.4,783.5L921.8,779.7L922.2,775.9L922.6,772.1L923.0,768.3L923.4,764.5M924.9,749.9L925.2,746.7L925.6,743.6L925.9,740.4M927.6,725.9L928.1,722.0L928.5,718.2L929.0,714.4L929.4,710.6L929.9,706.8L930.3,703.0L930.8,699.2L931.3,695.4L931.7,691.6L932.2,687.8M933.9,673.2L934.3,670.1L934.6,666.9L935.0,663.7M936.6,649.2L937.0,645.4L937.4,641.6L937.8,637.8L938.1,634.0L938.5,630.2L938.9,626.4L939.3,622.6L939.6,618.8L940.0,614.9L940.3,611.1M941.7,596.6L942.0,593.4L942.3,590.3L942.7,587.1M944.1,572.6L944.5,568.8L944.9,565.0L945.3,561.2L945.8,557.4L946.2,553.5L946.6,549.7L947.1,545.9L947.6,542.1L948.0,538.3L948.5,534.5M950.6,520.0L951.0,516.8L951.5,513.7L952.0,510.5M954.4,496.0L955.0,492.2L955.6,488.3L956.2,484.5L956.8,480.7L957.4,476.9L957.9,473.1L958.4,469.3L958.9,465.5L959.4,461.7L959.9,457.9M962.0,443.4L962.5,440.2L963.0,437.0L963.6,433.9M966.8,419.3L967.8,415.5L968.8,411.7L970.0,407.9L971.1,404.1L972.4,400.3L973.7,396.5L975.1,392.7L976.5,388.9L978.1,385.1L979.7,381.3M985.9,369.8L988.1,367.5L990.6,367.0L993.1,368.6M1000.1,379.9L1001.4,383.5L1002.7,387.3L1004.0,391.2L1005.3,395.0L1006.4,398.8L1007.6,402.7L1008.6,406.5L1009.6,410.3L1010.6,414.2L1011.5,418.0M1014.5,432.6L1015.1,435.8L1015.7,439.0L1016.2,442.2M1018.7,456.9L1019.3,460.7L1020.0,464.5L1020.7,468.4L1021.4,472.2L1022.1,476.0L1022.9,479.9L1023.7,483.7L1024.5,487.5L1025.2,491.4L1026.0,495.2M1028.4,509.8L1028.8,513.0L1029.2,516.2L1029.6,519.4M1031.3,534.1L1031.8,537.9L1032.2,541.7L1032.6,545.6L1033.1,549.4L1033.5,553.2L1034.0,557.1L1034.5,560.9L1035.0,564.7L1035.4,568.6L1035.9,572.4M1037.8,587.1L1038.3,590.2L1038.7,593.4L1039.1,596.6M1041.1,611.2L1041.6,615.0L1042.1,618.8L1042.6,622.6L1043.1,626.4L1043.6,630.2L1044.2,634.0L1044.7,637.8L1045.2,641.6L1045.7,645.4L1046.2,649.2M1048.1,663.7L1048.5,666.8L1048.9,670.0L1049.3,673.2M1051.2,687.7L1051.6,691.5L1052.1,695.3L1052.6,699.1L1053.1,702.9L1053.5,706.7L1054.0,710.5L1054.5,714.3L1054.9,718.1L1055.4,721.9L1055.9,725.7M1057.6,740.2L1058.0,743.3L1058.4,746.5L1058.8,749.7M1060.5,764.2L1061.0,768.0L1061.4,771.8L1061.9,775.6L1062.3,779.4L1062.8,783.2L1063.3,787.0L1063.7,790.8L1064.2,794.6L1064.6,798.4L1065.1,802.2M1066.8,816.7L1067.2,819.8L1067.6,823.0L1068.0,826.2M1069.8,840.7L1070.2,844.5L1070.7,848.3L1071.2,852.1L1071.6,855.9L1072.1,859.7L1072.6,863.5L1073.1,867.3L1073.6,871.1L1074.0,874.9L1074.5,878.7M1076.4,893.2L1076.8,896.3L1077.2,899.5L1077.6,902.7M1079.6,917.2L1080.1,921.0L1080.6,924.8L1081.1,928.6L1081.7,932.4L1082.2,936.2L1082.7,940.0L1083.3,943.8L1083.8,947.6L1084.3,951.4L1084.9,955.2M1087.0,969.7L1087.5,972.8L1087.9,976.0L1088.4,979.2M1090.6,993.7L1091.2,997.5L1091.8,1001.3L1092.4,1005.1L1093.0,1008.9L1093.6,1012.7L1094.2,1016.5L1094.9,1020.3L1095.5,1024.1L1096.1,1027.9L1096.7,1031.7M1099.2,1046.2L1099.8,1049.3L1100.3,1052.5L1100.9,1055.7M1103.5,1070.2L1104.2,1074.0L1104.9,1077.8L1105.6,1081.6L1106.3,1085.4L1107.0,1089.2L1107.7,1093.0L1108.5,1096.8L1109.2,1100.6L1110.0,1104.4L1110.7,1108.2M1113.7,1122.7L1114.4,1125.8L1115.1,1129.0L1115.8,1132.2M1119.4,1146.7L1120.4,1150.5L1121.5,1154.3L1122.6,1158.1L1123.8,1161.9L1125.1,1165.7L1126.4,1169.5L1127.8,1173.3L1129.3,1177.1L1130.9,1180.9L1132.5,1184.7M1139.8,1199.2L1141.8,1202.3L1143.8,1205.5L1146.1,1208.7M1159.7,1222.0L1163.5,1224.4L1167.3,1226.4L1171.1,1228.0L1174.9,1229.4L1178.7,1230.5L1182.5,1231.4L1186.3,1232.1L1190.1,1232.6L1193.9,1232.9L1197.7,1233.0M1212.2,1232.4L1215.3,1232.0L1218.5,1231.6L1221.7,1231.2M1236.2,1229.3L1240.0,1229.0L1243.8,1228.7L1247.6,1228.4L1251.4,1228.2L1255.2,1228.1L1259.0,1228.1L1262.8,1228.1L1266.6,1228.2L1270.4,1228.3L1274.2,1228.5M1288.7,1229.7L1291.8,1230.1L1295.0,1230.5L1298.2,1230.9M1312.7,1233.2L1316.5,1233.9L1320.3,1234.6L1324.1,1235.4L1327.9,1236.1L1331.7,1236.9L1335.5,1237.8L1339.3,1238.6L1343.1,1239.5L1346.9,1240.4L1350.7,1241.3M1365.2,1245.0L1368.3,1245.8L1371.5,1246.6L1374.7,1247.5M1389.2,1251.3L1393.0,1252.3L1396.8,1253.3L1400.6,1254.4L1404.4,1255.7L1408.2,1257.2L1412.0,1258.9L1415.8,1261.0L1419.6,1263.3L1423.4,1265.9L1427.2,1268.7M1441.7,1279.9L1444.8,1282.4L1448.0,1285.0L1451.2,1287.7M1465.7,1300.2L1469.5,1303.6L1473.3,1307.0L1477.1,1310.5L1480.9,1313.9L1484.7,1317.4L1488.5,1320.8L1492.3,1324.3L1496.1,1327.7L1499.9,1331.2L1503.7,1334.6M1518.2,1347.3L1521.3,1350.0L1524.5,1352.7L1527.7,1355.3M1542.2,1366.8L1546.0,1369.6L1549.8,1372.4L1553.6,1375.1L1557.4,1377.8L1561.2,1380.4L1565.0,1382.9L1568.8,1385.3L1572.6,1387.7L1576.4,1390.1L1580.2,1392.4M1594.7,1400.7L1597.8,1402.4L1601.0,1404.1L1604.2,1405.7M1618.7,1412.9L1622.5,1414.7L1626.3,1416.4L1630.1,1418.1L1633.9,1419.8L1637.7,1421.4L1641.5,1423.0L1645.3,1424.5L1649.1,1426.1L1652.9,1427.5L1656.7,1429.0M1671.2,1434.2L1674.3,1435.3L1677.5,1436.4L1680.7,1437.4M1695.2,1442.0L1699.0,1443.2L1702.8,1444.3L1706.6,1445.4L1710.4,1446.5L1714.2,1447.6L1718.0,1448.7L1721.8,1449.8L1725.6,1450.8L1729.4,1451.9L1733.2,1452.9M1747.7,1456.9L1750.8,1457.7L1754.0,1458.6L1757.2,1459.4M1771.7,1463.4L1775.5,1464.4L1779.3,1465.5L1783.1,1466.6L1786.9,1467.6L1790.7,1468.7L1794.5,1469.7L1798.3,1470.7L1802.1,1471.8L1805.9,1472.8L1809.7,1473.7M1824.2,1477.3L1827.3,1478.0L1830.5,1478.6L1833.7,1479.3M1848.2,1481.9L1852.1,1482.4L1856.1,1483.0L1860.1,1483.4L1864.0,1483.8L1868.0,1484.1L1871.9,1484.4"/>
<path stroke="#ff7f00" d="M218.5,1497.6L222.3,1497.5L226.0,1497.5L229.8,1497.5L233.6,1497.6L237.4,1497.7L241.1,1497.9L244.9,1498.1L248.7,1498.3L252.4,1498.6L256.2,1498.9L260.0,1499.2L263.8,1499.6L267.5,1500.0L271.3,1500.4L275.1,1500.8M295.1,1503.4L298.9,1503.9L302.7,1504.5L306.4,1505.0L310.2,1505.5L314.0,1506.1L317.7,1506.6L321.5,1507.1L325.3,1507.6L329.1,1508.2L332.8,1508.7L336.6,1509.1L340.4,1509.6L344.1,1510.1L347.9,1510.5L351.7,1510.9M371.7,1512.5L375.5,1512.8L379.3,1512.9L383.0,1513.1L386.8,1513.2L390.6,1513.3L394.4,1513.4L398.1,1513.4L401.9,1513.5L405.7,1513.5L409.4,1513.6L413.2,1513.6L417.0,1513.6L420.8,1513.7L424.5,1513.7L428.3,1513.8M448.3,1514.5L452.1,1514.8L455.9,1515.0L459.7,1515.3L463.4,1515.6L467.2,1516.0L471.0,1516.4L474.7,1516.8L478.5,1517.2L482.3,1517.7L486.1,1518.1L489.8,1518.6L493.6,1519.1L497.4,1519.7L501.2,1520.2L504.9,1520.8M525.0,1523.8L528.7,1524.4L532.5,1525.0L536.3,1525.6L540.0,1526.2L543.8,1526.8L547.6,1527.3L551.4,1527.9L555.1,1528.4L558.9,1528.9L562.7,1529.4L566.5,1529.8L570.2,1530.3L574.0,1530.7L577.8,1531.0L581.5,1531.4M601.6,1532.7L605.3,1533.0L609.1,1533.3L612.9,1533.6L616.7,1534.0L620.4,1534.4L624.2,1534.9L628.0,1535.5L631.7,1536.2L635.5,1536.9L639.3,1537.7L643.1,1538.6L646.8,1539.4L650.6,1540.3L654.4,1541.1L658.2,1541.9M678.2,1544.9L682.0,1545.2L685.7,1545.2L689.5,1545.0L693.3,1544.4L697.0,1543.5L700.8,1541.9L704.6,1539.5L708.2,1535.9L711.1,1532.1L713.8,1528.3L716.5,1524.6L719.6,1520.8L722.8,1517.0L725.6,1513.2L727.9,1509.5M735.9,1489.4L737.1,1485.7L738.3,1481.9L739.4,1478.1L740.5,1474.3L741.5,1470.6L742.5,1466.8L743.5,1463.0L744.5,1459.3L745.5,1455.5L746.4,1451.7L747.3,1447.9L748.2,1444.2L749.0,1440.4L749.9,1436.6L750.7,1432.8M754.8,1412.8L755.5,1409.0L756.2,1405.3L756.9,1401.5L757.6,1397.7L758.3,1394.0L759.0,1390.2L759.6,1386.4L760.3,1382.6L760.9,1378.9L761.6,1375.1L762.2,1371.3L762.8,1367.5L763.4,1363.8L764.1,1360.0L764.7,1356.2M767.8,1336.2L768.4,1332.4L769.0,1328.7L769.5,1324.9L770.1,1321.1L770.6,1317.3L771.2,1313.6L771.7,1309.8L772.3,1306.0L772.8,1302.3L773.3,1298.5L773.9,1294.7L774.4,1290.9L774.9,1287.2L775.4,1283.4L775.9,1279.6M778.5,1259.6L779.0,1255.8L779.5,1252.0L780.0,1248.3L780.5,1244.5L780.9,1240.7L781.4,1237.0L781.9,1233.2L782.3,1229.4L782.8,1225.6L783.2,1221.9L783.7,1218.1L784.2,1214.3L784.6,1210.5L785.0,1206.8L785.5,1203.0M787.8,1183.0L788.3,1179.2L788.7,1175.4L789.1,1171.7L789.6,1167.9L790.0,1164.1L790.4,1160.3L790.8,1156.6L791.3,1152.8L791.7,1149.0L792.1,1145.2L792.5,1141.5L793.0,1137.7L793.4,1133.9L793.8,1130.2L794.2,1126.4M796.5,1106.4L796.9,1102.6L797.3,1098.8L797.7,1095.0L798.2,1091.3L798.6,1087.5L799.0,1083.7L799.4,1079.9L799.9,1076.2L800.3,1072.4L800.7,1068.6L801.1,1064.9L801.5,1061.1L802.0,1057.3L802.4,1053.5L802.8,1049.8M805.0,1029.7L805.4,1026.0L805.9,1022.2L806.3,1018.4L806.7,1014.7L807.1,1010.9L807.5,1007.1L807.9,1003.3L808.4,999.6L808.8,995.8L809.2,992.0L809.6,988.2L810.0,984.5L810.4,980.7L810.9,976.9L811.3,973.2M813.5,953.1L813.9,949.4L814.3,945.6L814.7,941.8L815.1,938.0L815.5,934.3L815.9,930.5L816.4,926.7L816.8,922.9L817.2,919.2L817.6,915.4L818.0,911.6L818.4,907.9L818.8,904.1L819.2,900.3L819.6,896.5M821.8,876.5L822.2,872.7L822.6,869.0L823.0,865.2L823.4,861.4L823.8,857.6L824.2,853.9L824.6,850.1L825.0,846.3L825.4,842.6L825.8,838.8L826.2,835.0L826.6,831.2L827.0,827.5L827.4,823.7L827.8,819.9M829.9,799.9L830.3,796.1L830.7,792.3L831.1,788.6L831.5,784.8L831.9,781.0L832.3,777.3L832.7,773.5L833.1,769.7L833.5,765.9L833.9,762.2L834.3,758.4L834.7,754.6L835.1,750.9L835.5,747.1L835.9,743.3M838.0,723.3L838.4,719.5L838.8,715.7L839.2,712.0L839.6,708.2L840.0,704.4L840.4,700.6L840.8,696.9L841.2,693.1L841.7,689.3L842.1,685.6L842.5,681.8L842.9,678.0L843.3,674.3L843.7,670.5L844.1,666.7M846.4,646.7L846.8,643.0L847.3,639.2L847.7,635.4L848.1,631.7L848.6,627.9L849.0,624.1L849.4,620.4L849.9,616.6L850.3,612.8L850.8,609.1L851.2,605.3L851.7,601.5L852.1,597.8L852.6,594.0L853.0,590.2M855.5,570.2L856.0,566.5L856.5,562.7L857.0,558.9L857.5,555.2L857.9,551.4L858.4,547.6L858.9,543.9L859.4,540.1L859.9,536.3L860.4,532.6L860.9,528.8L861.4,525.0L862.0,521.3L862.5,517.5L863.0,513.7M865.8,493.7L866.3,490.0L866.9,486.2L867.4,482.4L868.0,478.7L868.5,474.9L869.1,471.1L869.6,467.4L870.2,463.6L870.8,459.8L871.3,456.1L871.9,452.3L872.4,448.5L873.0,444.8L873.6,441.0L874.2,437.2M877.3,417.2L877.9,413.5L878.5,409.7L879.2,405.9L879.9,402.2L880.6,398.4L881.3,394.6L882.1,390.9L882.9,387.1L883.7,383.3L884.6,379.6L885.5,375.8L886.4,372.0L887.3,368.3L888.2,364.5L889.1,360.7M893.8,340.7L894.6,336.9L895.4,332.9L896.3,328.9L897.4,324.9L898.7,320.9L900.2,316.9L902.2,312.9L904.8,308.9L908.7,305.7L912.7,304.8L916.7,306.4L920.1,310.2L922.3,314.2L924.1,318.2L925.7,322.2M934.9,343.4L936.1,347.2L937.1,350.9L937.8,354.7L938.4,358.5L939.0,362.2L939.5,366.0L940.0,369.8L940.5,373.5L941.1,377.3L941.8,381.1L942.4,384.8L943.1,388.6L943.7,392.4L944.3,396.1L944.9,399.9M947.4,419.9L948.0,423.7L948.6,427.4L949.3,431.2L950.0,435.0L950.7,438.7L951.4,442.5L952.2,446.3L952.9,450.0L953.6,453.8L954.2,457.6L954.8,461.3L955.4,465.1L956.0,468.9L956.5,472.6L957.0,476.4M959.0,496.4L959.3,500.2L959.7,503.9L960.0,507.7L960.4,511.5L960.8,515.2L961.1,519.0L961.5,522.8L961.9,526.5L962.2,530.3L962.6,534.1L963.0,537.8L963.4,541.6L963.8,545.4L964.2,549.1L964.6,552.9M966.7,572.9L967.1,576.7L967.5,580.4L967.9,584.2L968.4,588.0L968.8,591.7L969.2,595.5L969.6,599.3L970.1,603.0L970.5,606.8L970.9,610.6L971.3,614.3L971.8,618.1L972.2,621.9L972.7,625.6L973.1,629.4M975.4,649.4L975.9,653.2L976.3,656.9L976.8,660.7L977.2,664.5L977.6,668.2L978.1,672.0L978.5,675.8L979.0,679.5L979.4,683.3L979.9,687.1L980.3,690.8L980.8,694.6L981.2,698.4L981.6,702.1L982.1,705.9M984.4,725.9L984.9,729.7L985.3,733.4L985.7,737.2L986.2,741.0L986.6,744.7L987.0,748.5L987.5,752.3L987.9,756.0L988.3,759.8L988.7,763.6L989.1,767.3L989.6,771.1L990.0,774.9L990.4,778.6L990.8,782.4M993.0,802.4L993.3,806.2L993.7,809.9L994.1,813.7L994.5,817.5L994.9,821.2L995.3,825.0L995.7,828.8L996.0,832.5L996.4,836.3L996.8,840.1L997.2,843.8L997.5,847.6L997.9,851.4L998.3,855.1L998.6,858.9M1000.5,878.9L1000.9,882.7L1001.3,886.4L1001.6,890.2L1002.0,894.0L1002.3,897.7L1002.7,901.5L1003.0,905.3L1003.4,909.0L1003.8,912.8L1004.1,916.6L1004.5,920.3L1004.8,924.1L1005.2,927.9L1005.6,931.6L1005.9,935.4M1007.9,955.4L1008.2,959.2L1008.6,962.9L1009.0,966.7L1009.3,970.5L1009.7,974.2L1010.1,978.0L1010.5,981.8L1010.9,985.5L1011.3,989.3L1011.6,993.1L1012.0,996.8L1012.4,1000.6L1012.8,1004.4L1013.2,1008.1L1013.6,1011.9M1015.8,1031.9L1016.3,1035.7L1016.7,1039.4L1017.1,1043.2L1017.6,1047.0L1018.0,1050.7L1018.5,1054.5L1018.9,1058.3L1019.4,1062.0L1019.8,1065.8L1020.3,1069.6L1020.8,1073.3L1021.3,1077.1L1021.7,1080.9L1022.2,1084.6L1022.7,1088.4M1025.4,1108.4L1026.0,1112.2L1026.5,1115.9L1027.1,1119.7L1027.6,1123.5L1028.1,1127.2L1028.7,1131.0L1029.3,1134.8L1029.8,1138.5L1030.4,1142.3L1031.0,1146.1L1031.5,1149.8L1032.1,1153.6L1032.7,1157.4L1033.3,1161.1L1033.9,1164.9M1037.1,1184.9L1037.7,1188.7L1038.4,1192.4L1039.0,1196.2L1039.6,1200.0L1040.3,1203.7L1040.9,1207.5L1041.5,1211.3L1042.2,1215.0L1042.8,1218.8L1043.5,1222.6L1044.1,1226.3L1044.8,1230.1L1045.4,1233.9L1046.1,1237.6L1046.8,1241.4M1050.4,1261.4L1051.1,1265.2L1051.9,1268.9L1052.7,1272.7L1053.5,1276.5L1054.3,1280.2L1055.2,1284.0L1056.2,1287.8L1057.2,1291.5L1058.2,1295.3L1059.3,1299.1L1060.5,1302.8L1061.7,1306.6L1063.1,1310.4L1064.4,1314.1L1065.9,1317.9M1075.5,1337.9L1077.7,1341.7L1080.0,1345.4L1082.6,1349.2L1085.5,1353.0L1089.1,1356.6L1092.9,1359.5L1096.7,1361.4L1100.4,1362.4L1104.2,1362.8L1108.0,1362.6L1111.7,1362.0L1115.5,1361.1L1119.3,1359.8L1123.0,1358.2L1126.8,1356.4M1146.8,1341.4L1150.6,1337.8L1154.4,1333.9L1158.2,1330.1L1162.1,1326.4L1165.9,1322.8L1169.8,1319.4L1173.6,1316.2L1177.4,1313.3L1181.3,1310.6L1185.1,1308.2L1188.9,1306.1L1192.8,1304.1L1196.6,1302.4L1200.4,1300.9L1204.3,1299.6M1224.6,1296.5L1228.5,1296.5L1232.3,1296.7L1236.1,1297.0L1240.0,1297.5L1243.8,1298.1L1247.6,1298.8L1251.5,1299.6L1255.3,1300.5L1259.2,1301.4L1263.0,1302.3L1266.8,1303.3L1270.7,1304.4L1274.5,1305.4L1278.3,1306.4L1282.2,1307.4M1302.3,1312.2L1306.1,1313.0L1309.8,1313.8L1313.6,1314.5L1317.4,1315.3L1321.1,1316.1L1324.9,1316.8L1328.7,1317.5L1332.4,1318.3L1336.2,1319.0L1340.0,1319.8L1343.7,1320.5L1347.5,1321.3L1351.3,1322.1L1355.0,1322.8L1358.8,1323.6M1378.8,1328.2L1382.6,1329.1L1386.3,1330.0L1390.1,1330.9L1393.9,1331.8L1397.6,1332.7L1401.4,1333.6L1405.2,1334.5L1408.9,1335.4L1412.7,1336.3L1416.5,1337.2L1420.2,1338.1L1424.0,1338.9L1427.8,1339.8L1431.5,1340.6L1435.3,1341.4M1455.3,1346.0L1459.1,1347.1L1462.8,1348.3L1466.6,1349.6L1470.4,1351.0L1474.1,1352.5L1477.9,1354.1L1481.7,1355.8L1485.4,1357.5L1489.2,1359.3L1493.0,1361.2L1496.7,1363.1L1500.5,1365.0L1504.3,1367.0L1508.0,1369.0L1511.8,1371.0M1531.8,1381.9L1535.6,1384.2L1539.3,1386.6L1543.2,1389.2L1547.1,1391.9L1551.0,1394.9L1554.9,1398.2L1558.8,1401.8L1562.6,1405.7L1566.1,1409.6L1569.5,1413.5L1572.6,1417.4L1575.7,1421.3L1578.8,1425.2L1581.8,1429.0L1584.9,1432.9M1602.5,1453.6L1606.2,1457.5L1610.0,1461.4L1613.9,1465.1L1617.8,1468.7L1621.7,1472.1L1625.6,1475.4L1629.5,1478.4L1633.4,1481.3L1637.3,1484.0L1641.1,1486.6L1644.9,1489.0L1648.7,1491.2L1652.4,1493.4L1656.2,1495.4L1660.0,1497.3M1680.0,1506.1L1683.7,1507.5L1687.5,1508.8L1691.3,1510.1L1695.0,1511.3L1698.8,1512.4L1702.6,1513.4L1706.3,1514.4L1710.1,1515.3L1713.9,1516.2L1717.6,1516.9L1721.4,1517.7L1725.2,1518.3L1728.9,1518.9L1732.7,1519.4L1736.5,1519.8M1756.5,1521.0L1760.2,1521.1L1764.0,1521.0L1767.8,1520.9L1771.5,1520.8L1775.3,1520.8L1779.1,1520.7L1782.8,1520.8L1786.6,1520.9L1790.4,1521.1L1794.1,1521.4L1797.9,1521.8L1801.7,1522.2L1805.4,1522.7L1809.2,1523.3L1813.0,1523.9M1833.0,1527.7L1836.9,1528.3L1840.8,1529.0L1844.7,1529.5L1848.6,1530.0L1852.5,1530.4L1856.4,1530.6L1860.3,1530.7L1864.2,1530.6L1868.1,1530.4L1872.0,1529.9"/>
<path stroke="#3030ff" d="M218.6,1356.0L222.4,1356.3L226.2,1356.7L230.0,1357.1L233.8,1357.6L237.6,1358.1L241.4,1358.6L245.3,1359.2L249.1,1359.8L252.9,1360.5L256.7,1361.3M266.2,1363.5L269.0,1364.3L271.7,1365.0M280.7,1368.0L283.5,1369.1L286.3,1370.2M295.3,1374.5L299.1,1376.7L302.9,1379.1L306.7,1381.7L310.5,1384.6L314.3,1387.7L318.1,1391.0L321.9,1394.5L325.8,1398.3L329.5,1402.1L333.1,1405.9M341.9,1415.4L344.5,1418.2L347.1,1420.9M355.8,1429.9L358.5,1432.6L361.3,1435.3M370.3,1443.3L374.1,1446.4L377.9,1449.5L381.7,1452.4L385.6,1455.2L389.4,1457.8L393.2,1460.4L397.0,1462.9L400.8,1465.2L404.6,1467.5L408.4,1469.6M417.9,1474.7L420.7,1476.0L423.4,1477.3M432.5,1481.2L435.2,1482.4L438.0,1483.4M447.0,1486.6L450.8,1487.8L454.6,1489.0L458.4,1490.0L462.2,1491.0L466.1,1491.9L469.9,1492.7L473.7,1493.5L477.5,1494.2L481.3,1494.8L485.1,1495.3M494.6,1496.3L497.4,1496.4L500.1,1496.6M509.2,1496.9L511.9,1496.9L514.7,1496.9M523.7,1496.9L527.5,1496.8L531.3,1496.8L535.1,1496.7L538.9,1496.7L542.8,1496.6L546.6,1496.7L550.4,1496.7L554.2,1496.8L558.0,1497.0L561.8,1497.2M571.3,1498.1L574.1,1498.4L576.8,1498.9M585.9,1500.6L588.6,1501.3L591.4,1502.0M600.4,1504.6L604.2,1505.8L608.0,1507.1L611.8,1508.5L615.6,1510.0L619.5,1511.5L623.3,1513.1L627.1,1514.6L630.9,1516.1L634.7,1517.3L638.5,1518.3M648.0,1519.3L650.8,1519.1L653.5,1518.7M662.6,1517.2L665.3,1516.8L668.1,1516.6M677.1,1516.9L680.9,1517.4L684.7,1518.2L688.5,1519.1L692.3,1520.3L696.2,1521.7L700.0,1523.2L703.8,1524.7L707.6,1526.1L711.4,1527.3L715.2,1528.3M724.7,1529.0L727.5,1528.8L730.2,1528.4M739.3,1526.0L742.0,1524.8L744.8,1523.5M753.8,1517.7L757.6,1514.6L761.4,1510.9L764.7,1507.1L767.6,1503.3L770.1,1499.4L772.4,1495.6L774.3,1491.8L776.1,1488.0L777.7,1484.2L779.2,1480.4M782.6,1470.9L783.5,1468.1L784.3,1465.4M787.1,1456.3L787.9,1453.6L788.7,1450.8M791.2,1441.8L792.2,1438.0L793.2,1434.2L794.2,1430.4L795.2,1426.6L796.1,1422.7L797.0,1418.9L797.9,1415.1L798.7,1411.3L799.6,1407.5L800.4,1403.7M802.4,1394.2L803.0,1391.4L803.6,1388.7M805.4,1379.6L805.9,1376.9L806.4,1374.1M808.1,1365.1L808.8,1361.3L809.5,1357.5L810.2,1353.7L810.9,1349.9L811.6,1346.0L812.2,1342.2L812.9,1338.4L813.5,1334.6L814.2,1330.8L814.8,1327.0M816.4,1317.5L816.8,1314.7L817.2,1312.0M818.7,1302.9L819.1,1300.2L819.5,1297.4M820.9,1288.4L821.4,1284.6L822.0,1280.8L822.5,1277.0L823.1,1273.2L823.6,1269.3L824.2,1265.5L824.7,1261.7L825.2,1257.9L825.8,1254.1L826.3,1250.3M827.6,1240.8L828.0,1238.0L828.3,1235.3M829.5,1226.2L829.9,1223.5L830.2,1220.7M831.4,1211.7L831.9,1207.9L832.4,1204.1L832.9,1200.3L833.4,1196.5L833.8,1192.7L834.3,1188.8L834.8,1185.0L835.3,1181.2L835.7,1177.4L836.2,1173.6M837.4,1164.1L837.7,1161.3L838.1,1158.6M839.2,1149.5L839.6,1146.8L839.9,1144.0M841.0,1135.0L841.5,1131.2L842.0,1127.4L842.4,1123.6L842.9,1119.8L843.4,1116.0L843.9,1112.1L844.3,1108.3L844.8,1104.5L845.3,1100.7L845.7,1096.9M846.9,1087.4L847.3,1084.6L847.6,1081.9M848.7,1072.8L849.1,1070.1L849.4,1067.3M850.5,1058.3L851.0,1054.5L851.4,1050.7L851.9,1046.9L852.4,1043.1L852.8,1039.3L853.3,1035.4L853.8,1031.6L854.2,1027.8L854.7,1024.0L855.1,1020.2M856.3,1010.7L856.6,1007.9L856.9,1005.2M858.0,996.1L858.3,993.4L858.6,990.6M859.7,981.6L860.1,977.8L860.6,974.0L861.0,970.2L861.5,966.4L861.9,962.6L862.3,958.7L862.8,954.9L863.2,951.1L863.6,947.3L864.0,943.5M865.1,934.0L865.4,931.2L865.7,928.5M866.7,919.4L867.0,916.7L867.3,913.9M868.2,904.9L868.6,901.1L869.0,897.3L869.4,893.5L869.8,889.7L870.2,885.9L870.6,882.0L871.0,878.2L871.4,874.4L871.8,870.6L872.2,866.8M873.1,857.3L873.4,854.5L873.7,851.8M874.6,842.7L874.8,840.0L875.1,837.2M876.0,828.2L876.3,824.4L876.7,820.6L877.1,816.8L877.5,813.0L877.8,809.2L878.2,805.4L878.6,801.5L878.9,797.7L879.3,793.9L879.7,790.1M880.6,780.6L880.8,777.8L881.1,775.1M882.0,766.0L882.3,763.3L882.5,760.5M883.4,751.5L883.8,747.7L884.2,743.9L884.5,740.1L884.9,736.3L885.3,732.5L885.7,728.7L886.1,724.8L886.4,721.0L886.8,717.2L887.2,713.4M888.2,703.9L888.5,701.1L888.8,698.4M889.7,689.4L890.0,686.6L890.3,683.9M891.3,674.8L891.7,671.0L892.1,667.2L892.5,663.4L892.9,659.6L893.3,655.8L893.8,652.0L894.2,648.2L894.6,644.4L895.0,640.6L895.4,636.8M896.4,627.3L896.7,624.5L897.0,621.8M897.8,612.8L898.1,610.0L898.4,607.3M899.2,598.2L899.5,594.4L899.8,590.6L900.1,586.8L900.4,583.0L900.7,579.2L901.0,575.4L901.3,571.6L901.6,567.8L901.9,564.0L902.2,560.2M903.0,550.7L903.3,547.9L903.6,545.2M904.5,536.2L904.8,533.4L905.2,530.7M906.4,521.6L907.0,517.8L907.6,514.0L908.2,510.2L908.8,506.4L909.4,502.6L910.0,498.8L910.5,495.0L911.0,491.2L911.5,487.4L911.9,483.6M912.6,474.1L912.9,471.3L913.1,468.6M914.0,459.6L914.3,456.8L914.6,454.1M915.8,445.0L916.3,441.2L916.8,437.4L917.3,433.6L917.9,429.8L918.4,426.0L919.0,422.2L919.6,418.4L920.1,414.6L920.7,410.8L921.2,407.0M922.5,397.5L922.9,394.7L923.2,392.0M924.3,383.0L924.6,380.2L924.9,377.5M926.2,368.4L926.8,364.6L927.5,360.8L928.2,357.0L928.9,353.2L929.7,349.4L930.6,345.6L931.4,341.8L932.3,338.0L933.3,334.2L934.2,330.4M936.7,320.9L937.4,318.1L938.1,315.4M940.8,306.5L941.9,303.8L943.2,301.1M950.2,295.5L953.2,299.1L954.6,302.9L955.7,306.6L957.1,310.4L958.6,314.2L960.1,317.9L961.5,321.7L962.7,325.5L963.8,329.3L964.8,333.1M966.8,342.6L967.3,345.4L967.7,348.1M969.2,357.1L969.6,359.9L970.0,362.6M971.4,371.6L972.1,375.4L972.8,379.2L973.5,383.0L974.2,386.8L974.8,390.6L975.5,394.4L976.1,398.2L976.6,402.0L977.0,405.8L977.4,409.6M977.9,419.1L978.0,421.9L978.2,424.6M979.0,433.6L979.3,436.4L979.6,439.1M980.8,448.1L981.3,451.9L981.8,455.7L982.4,459.5L982.9,463.3L983.4,467.1L983.9,470.9L984.4,474.7L984.8,478.5L985.2,482.3L985.6,486.1M986.6,495.6L986.9,498.4L987.2,501.1M988.0,510.1L988.3,512.9L988.5,515.6M989.4,524.6L989.7,528.4L990.1,532.2L990.4,536.0L990.8,539.8L991.1,543.6L991.5,547.4L991.8,551.2L992.1,555.0L992.5,558.8L992.8,562.6M993.7,572.1L993.9,574.9L994.1,577.6M994.9,586.6L995.2,589.4L995.4,592.1M996.2,601.1L996.5,604.9L996.9,608.7L997.2,612.5L997.5,616.3L997.8,620.1L998.2,623.9L998.5,627.7L998.8,631.5L999.1,635.3L999.5,639.1M1000.3,648.6L1000.5,651.4L1000.7,654.1M1001.5,663.1L1001.7,665.9L1002.0,668.6M1002.7,677.6L1003.0,681.4L1003.3,685.2L1003.7,689.0L1004.0,692.8L1004.3,696.6L1004.6,700.4L1004.9,704.2L1005.3,708.0L1005.6,711.8L1005.9,715.6M1006.7,725.1L1006.9,727.9L1007.1,730.6M1007.9,739.6L1008.1,742.4L1008.3,745.1M1009.1,754.1L1009.4,757.9L1009.7,761.7L1010.0,765.5L1010.4,769.3L1010.7,773.1L1011.0,776.9L1011.3,780.7L1011.6,784.5L1012.0,788.3L1012.3,792.1M1013.1,801.6L1013.3,804.4L1013.5,807.1M1014.3,816.1L1014.5,818.9L1014.8,821.6M1015.5,830.6L1015.8,834.4L1016.2,838.2L1016.5,842.0L1016.8,845.8L1017.1,849.6L1017.4,853.4L1017.8,857.2L1018.1,861.0L1018.4,864.8L1018.7,868.6M1019.5,878.1L1019.8,880.9L1020.0,883.6M1020.8,892.6L1021.0,895.4L1021.3,898.1M1022.0,907.1L1022.3,910.9L1022.7,914.7L1023.0,918.5L1023.3,922.3L1023.7,926.1L1024.0,929.9L1024.3,933.7L1024.6,937.5L1025.0,941.3L1025.3,945.1M1026.1,954.6L1026.4,957.4L1026.6,960.1M1027.4,969.1L1027.6,971.9L1027.9,974.6M1028.6,983.6L1029.0,987.4L1029.3,991.2L1029.6,995.0L1030.0,998.8L1030.3,1002.6L1030.6,1006.4L1031.0,1010.2L1031.3,1014.0L1031.7,1017.8L1032.0,1021.6M1032.8,1031.1L1033.1,1033.9L1033.3,1036.6M1034.2,1045.6L1034.4,1048.4L1034.7,1051.1M1035.5,1060.1L1035.9,1063.9L1036.2,1067.7L1036.6,1071.5L1036.9,1075.3L1037.3,1079.1L1037.7,1082.9L1038.1,1086.7L1038.4,1090.5L1038.8,1094.3L1039.2,1098.1M1040.2,1107.6L1040.4,1110.4L1040.7,1113.1M1041.7,1122.1L1042.0,1124.9L1042.2,1127.6M1043.2,1136.6L1043.6,1140.4L1044.1,1144.2L1044.5,1148.0L1044.9,1151.8L1045.4,1155.6L1045.8,1159.4L1046.2,1163.2L1046.7,1167.0L1047.2,1170.8L1047.6,1174.6M1048.8,1184.1L1049.1,1186.9L1049.5,1189.6M1050.6,1198.6L1051.0,1201.4L1051.3,1204.1M1052.6,1213.1L1053.1,1216.9L1053.6,1220.7L1054.1,1224.5L1054.7,1228.3L1055.2,1232.1L1055.8,1235.9L1056.3,1239.7L1056.9,1243.5L1057.5,1247.3L1058.0,1251.1M1059.5,1260.6L1059.9,1263.4L1060.4,1266.1M1061.9,1275.1L1062.3,1277.9L1062.8,1280.6M1064.4,1289.6L1065.1,1293.4L1065.8,1297.2L1066.5,1301.0L1067.2,1304.8L1068.0,1308.6L1068.7,1312.4L1069.5,1316.2L1070.3,1320.0L1071.2,1323.8L1072.0,1327.6M1074.2,1337.1L1074.9,1339.9L1075.6,1342.8M1078.0,1352.3L1078.8,1355.2L1079.6,1358.1M1082.2,1367.7L1083.4,1371.7L1084.7,1375.7L1086.1,1379.7L1087.7,1383.7L1089.7,1387.8L1092.2,1391.8L1095.5,1395.8L1099.5,1399.3L1103.5,1401.6L1107.5,1403.1M1117.3,1404.8L1120.0,1404.9L1122.8,1404.9M1131.8,1404.3L1134.5,1403.9L1137.3,1403.5M1146.3,1402.2L1150.1,1401.9L1153.9,1401.5L1157.7,1401.2L1161.5,1400.8L1165.3,1400.4L1169.1,1399.9L1172.9,1399.3L1176.7,1398.6L1180.5,1397.8L1184.3,1397.0M1193.8,1394.9L1196.5,1394.3L1199.3,1393.7M1208.3,1392.0L1211.0,1391.6L1213.8,1391.3M1222.8,1390.5L1226.6,1390.5L1230.4,1390.5L1234.2,1390.7L1238.0,1390.9L1241.8,1391.3L1245.6,1391.6L1249.4,1392.0L1253.2,1392.4L1257.0,1392.7L1260.8,1393.0M1270.3,1393.4L1273.0,1393.4L1275.8,1393.4M1284.8,1393.1L1287.5,1393.1L1290.3,1393.1M1299.3,1394.3L1303.1,1395.3L1306.9,1396.7L1310.7,1398.3L1314.5,1400.1L1318.3,1402.0L1322.1,1404.0L1325.9,1405.8L1329.7,1407.6L1333.5,1409.1L1337.3,1410.4M1346.8,1412.4L1349.5,1412.7L1352.3,1412.9M1361.3,1413.1L1364.0,1413.0L1366.8,1412.8M1375.8,1412.1L1379.6,1411.6L1383.4,1411.2L1387.2,1410.7L1391.0,1410.2L1394.8,1409.7L1398.6,1409.1L1402.4,1408.6L1406.2,1408.1L1410.0,1407.6L1413.8,1407.1M1423.3,1406.1L1426.0,1405.9L1428.8,1405.7M1437.8,1405.2L1440.5,1405.2L1443.3,1405.2M1452.3,1405.5L1456.1,1405.8L1459.9,1406.2L1463.7,1406.6L1467.5,1407.2L1471.3,1407.8L1475.1,1408.4L1478.9,1409.0L1482.7,1409.6L1486.5,1410.2L1490.3,1410.8M1499.8,1412.0L1502.5,1412.3L1505.3,1412.5M1514.3,1413.0L1517.0,1413.2L1519.8,1413.4M1528.8,1414.5L1532.6,1415.3L1536.4,1416.2L1540.2,1417.3L1544.0,1418.4L1547.8,1419.6L1551.6,1420.8L1555.4,1421.9L1559.2,1423.0L1563.0,1424.0L1566.8,1424.8M1576.3,1426.2L1579.0,1426.5L1581.8,1426.6M1590.8,1426.8L1593.5,1426.8L1596.3,1426.7M1605.3,1426.3L1609.1,1426.1L1612.9,1425.8L1616.7,1425.5L1620.5,1425.2L1624.3,1424.8L1628.1,1424.5L1631.9,1424.1L1635.7,1423.6L1639.5,1423.2L1643.3,1422.7M1652.8,1421.4L1655.5,1421.0L1658.3,1420.6M1667.3,1419.1L1670.0,1418.7L1672.8,1418.2M1681.8,1416.6L1685.6,1415.8L1689.4,1415.1L1693.2,1414.3L1697.0,1413.5L1700.8,1412.7L1704.6,1411.9L1708.4,1411.0L1712.2,1410.1L1716.0,1409.2L1719.8,1408.3M1729.3,1406.0L1732.0,1405.3L1734.8,1404.6M1743.8,1402.2L1746.5,1401.5L1749.3,1400.7M1758.3,1398.2L1762.1,1397.1L1765.9,1396.1L1769.7,1394.9L1773.5,1393.8L1777.3,1392.7L1781.1,1391.5L1784.9,1390.4L1788.7,1389.2L1792.5,1388.0L1796.3,1386.9M1805.8,1383.9L1808.5,1383.0L1811.3,1382.1M1820.3,1379.2L1823.0,1378.3L1825.8,1377.3M1834.8,1374.4L1838.5,1373.1L1842.2,1371.9L1845.9,1370.6L1849.6,1369.4L1853.3,1368.1L1857.0,1366.8L1860.7,1365.6L1864.4,1364.3L1868.2,1363.1L1871.9,1361.8"/>
</g>
<g stroke="#000" fill="none">
<path stroke="#333" stroke-width="2.2" d="M218.7,1502.2H241.2"/>
<path stroke="#333" stroke-width="2.2" d="M218.7,1457.1H241.2"/>
<path stroke="#333" stroke-width="2.2" d="M218.7,1412.0H241.2"/>
<path stroke="#333" stroke-width="2.2" d="M218.7,1321.8H241.2"/>
<path stroke="#333" stroke-width="2.2" d="M218.7,1276.7H241.2"/>
<path stroke="#333" stroke-width="2.2" d="M218.7,1231.6H241.2"/>
<path stroke="#333" stroke-width="2.2" d="M218.7,1141.4H241.2"/>
<path stroke="#333" stroke-width="2.2" d="M218.7,1096.3H241.2"/>
<path stroke="#333" stroke-width="2.2" d="M218.7,1051.2H241.2"/>
<path stroke="#333" stroke-width="2.2" d="M218.7,961.0H241.2"/>
<path stroke="#333" stroke-width="2.2" d="M218.7,915.9H241.2"/>
<path stroke="#333" stroke-width="2.2" d="M218.7,870.8H241.2"/>
<path stroke="#333" stroke-width="2.2" d="M218.7,780.6H241.2"/>
<path stroke="#333" stroke-width="2.2" d="M218.7,735.5H241.2"/>
<path stroke="#333" stroke-width="2.2" d="M218.7,690.4H241.2"/>
<path stroke="#333" stroke-width="2.2" d="M218.7,600.2H241.2"/>
<path stroke="#333" stroke-width="2.2" d="M218.7,555.1H241.2"/>
<path stroke="#333" stroke-width="2.2" d="M218.7,510.0H241.2"/>
<path stroke="#333" stroke-width="2.2" d="M218.7,419.8H241.2"/>
<path stroke="#333" stroke-width="2.2" d="M218.7,374.7H241.2"/>
<path stroke="#333" stroke-width="2.2" d="M218.7,329.6H241.2"/>
<path stroke="#333" stroke-width="2.2" d="M218.7,239.4H241.2"/>
<path stroke="#333" stroke-width="2.2" d="M218.7,194.3H241.2"/>
<path stroke="#333" stroke-width="2.2" d="M218.7,149.2H241.2"/>
<path stroke="#333" stroke-width="2.2" d="M218.7,59.0H241.2"/>
<path stroke-width="5.6" d="M218.7,1547.3H257.7"/>
<path stroke-width="5.6" d="M218.7,1366.9H257.7"/>
<path stroke-width="5.6" d="M218.7,1186.5H257.7"/>
<path stroke-width="5.6" d="M218.7,1006.1H257.7"/>
<path stroke-width="5.6" d="M218.7,825.7H257.7"/>
<path stroke-width="5.6" d="M218.7,645.3H257.7"/>
<path stroke-width="5.6" d="M218.7,464.9H257.7"/>
<path stroke-width="5.6" d="M218.7,284.5H257.7"/>
<path stroke-width="5.6" d="M218.7,104.1H257.7"/>
<path stroke="#222" stroke-width="2.4" d="M251.7,1560.5V1533.0"/>
<path stroke="#222" stroke-width="2.4" d="M284.8,1560.5V1533.0"/>
<path stroke="#222" stroke-width="2.4" d="M317.8,1560.5V1533.0"/>
<path stroke="#222" stroke-width="2.4" d="M350.9,1560.5V1533.0"/>
<path stroke="#222" stroke-width="2.4" d="M417.2,1560.5V1533.0"/>
<path stroke="#222" stroke-width="2.4" d="M450.5,1560.5V1533.0"/>
<path stroke="#222" stroke-width="2.4" d="M483.7,1560.5V1533.0"/>
<path stroke="#222" stroke-width="2.4" d="M517.0,1560.5V1533.0"/>
<path stroke="#222" stroke-width="2.4" d="M583.4,1560.5V1533.0"/>
<path stroke="#222" stroke-width="2.4" d="M616.7,1560.5V1533.0"/>
<path stroke="#222" stroke-width="2.4" d="M649.9,1560.5V1533.0"/>
<path stroke="#222" stroke-width="2.4" d="M683.2,1560.5V1533.0"/>
<path stroke="#222" stroke-width="2.4" d="M749.3,1560.5V1533.0"/>
<path stroke="#222" stroke-width="2.4" d="M782.2,1560.5V1533.0"/>
<path stroke="#222" stroke-width="2.4" d="M815.1,1560.5V1533.0"/>
<path stroke="#222" stroke-width="2.4" d="M848.0,1560.5V1533.0"/>
<path stroke="#222" stroke-width="2.4" d="M914.1,1560.5V1533.0"/>
<path stroke="#222" stroke-width="2.4" d="M947.3,1560.5V1533.0"/>
<path stroke="#222" stroke-width="2.4" d="M980.5,1560.5V1533.0"/>
<path stroke="#222" stroke-width="2.4" d="M1013.7,1560.5V1533.0"/>
<path stroke="#222" stroke-width="2.4" d="M1080.0,1560.5V1533.0"/>
<path stroke="#222" stroke-width="2.4" d="M1113.2,1560.5V1533.0"/>
<path stroke="#222" stroke-width="2.4" d="M1146.3,1560.5V1533.0"/>
<path stroke="#222" stroke-width="2.4" d="M1179.5,1560.5V1533.0"/>
<path stroke="#222" stroke-width="2.4" d="M1245.5,1560.5V1533.0"/>
<path stroke="#222" stroke-width="2.4" d="M1278.3,1560.5V1533.0"/>
<path stroke="#222" stroke-width="2.4" d="M1311.2,1560.5V1533.0"/>
<path stroke="#222" stroke-width="2.4" d="M1344.0,1560.5V1533.0"/>
<path stroke="#222" stroke-width="2.4" d="M1410.1,1560.5V1533.0"/>
<path stroke="#222" stroke-width="2.4" d="M1443.4,1560.5V1533.0"/>
<path stroke="#222" stroke-width="2.4" d="M1476.6,1560.5V1533.0"/>
<path stroke="#222" stroke-width="2.4" d="M1509.9,1560.5V1533.0"/>
<path stroke="#222" stroke-width="2.4" d="M1576.3,1560.5V1533.0"/>
<path stroke="#222" stroke-width="2.4" d="M1609.4,1560.5V1533.0"/>
<path stroke="#222" stroke-width="2.4" d="M1642.6,1560.5V1533.0"/>
<path stroke="#222" stroke-width="2.4" d="M1675.7,1560.5V1533.0"/>
<path stroke="#222" stroke-width="2.4" d="M1741.9,1560.5V1533.0"/>
<path stroke="#222" stroke-width="2.4" d="M1774.9,1560.5V1533.0"/>
<path stroke="#222" stroke-width="2.4" d="M1807.8,1560.5V1533.0"/>
<path stroke="#222" stroke-width="2.4" d="M1840.8,1560.5V1533.0"/>
<path stroke-width="6" d="M384.0,1560.5V1520.5"/>
<path stroke-width="6" d="M550.2,1560.5V1520.5"/>
<path stroke-width="6" d="M716.4,1560.5V1520.5"/>
<path stroke-width="6" d="M880.9,1560.5V1520.5"/>
<path stroke-width="6" d="M1046.9,1560.5V1520.5"/>
<path stroke-width="6" d="M1212.6,1560.5V1520.5"/>
<path stroke-width="6" d="M1376.9,1560.5V1520.5"/>
<path stroke-width="6" d="M1543.1,1560.5V1520.5"/>
<path stroke-width="6" d="M1708.9,1560.5V1520.5"/>
</g>
<rect x="218.7" y="48.0" width="1655.3" height="1512.5" fill="none" stroke="#000" stroke-width="6.5"/>
<path d="M1255.7,155.0H1520.8" stroke="#000" stroke-width="7.2" fill="none"/>
<text class="lg" transform="translate(1566,172.2) scale(1,1)">Blank</text>
<path d="M1255.7,225.3H1520.8" stroke="#cc0000" stroke-width="7.2" stroke-dasharray="38 38.5" fill="none"/>
<text class="lg" transform="translate(1566,243.5) scale(1,1)">DRC-01</text>
<path d="M1255.7,295.7H1520.8" stroke="#005000" stroke-width="7.2" stroke-dasharray="38 14.5 9.5 14.5" fill="none"/>
<text class="lg" transform="translate(1566,314.2) scale(1,1)">DRC-02</text>
<path d="M1255.7,365.8H1520.8" stroke="#ff7f00" stroke-width="7.2" stroke-dasharray="56.5 20" fill="none"/>
<text class="lg" transform="translate(1566,383.9) scale(1,1)">DRC-03</text>
<path d="M1255.7,437.4H1520.8" stroke="#3030ff" stroke-width="7.2" stroke-dasharray="38 9.5 5.5 9 5.5 9" fill="none"/>
<text class="lg" transform="translate(1566,453.7) scale(1,1)">DRC-04</text>
<text class="tk" transform="translate(0,1620.3) scale(1,1.02)" x="201.92" y="0">0</text>
<text class="tk" transform="translate(0,1620.3) scale(1,1.02)" x="342.60 375.97 394.33" y="0">0.1</text>
<rect x="397.93" y="1614.36" width="11.86" height="7.24" fill="#fff"/>
<rect x="414.27" y="1614.36" width="11.38" height="7.24" fill="#fff"/>
<text class="tk" transform="translate(0,1620.3) scale(1,1.02)" x="508.50 541.87 558.53" y="0">0.2</text>
<text class="tk" transform="translate(0,1620.3) scale(1,1.02)" x="674.70 708.07 724.73" y="0">0.3</text>
<text class="tk" transform="translate(0,1620.3) scale(1,1.02)" x="839.20 872.57 889.23" y="0">0.4</text>
<text class="tk" transform="translate(0,1620.3) scale(1,1.02)" x="1005.20 1038.57 1055.23" y="0">0.5</text>
<text class="tk" transform="translate(0,1620.3) scale(1,1.02)" x="1170.90 1204.27 1220.93" y="0">0.6</text>
<text class="tk" transform="translate(0,1620.3) scale(1,1.02)" x="1335.20 1368.57 1385.23" y="0">0.7</text>
<text class="tk" transform="translate(0,1620.3) scale(1,1.02)" x="1501.40 1534.77 1551.43" y="0">0.8</text>
<text class="tk" transform="translate(0,1620.3) scale(1,1.02)" x="1667.20 1700.57 1717.23" y="0">0.9</text>
<text class="tk" transform="translate(0,1620.3) scale(1,1.02)" x="1859.12" y="0">1</text>
<rect x="1862.72" y="1614.36" width="11.86" height="7.24" fill="#fff"/>
<rect x="1879.05" y="1614.36" width="11.38" height="7.24" fill="#fff"/>
<text class="tk" transform="translate(0,1566.7) scale(1,1.02)" x="162.93" y="0">0</text>
<text class="tk" transform="translate(0,1386.3) scale(1,1.02)" x="79.52 112.89 129.56 162.93" y="0">0.02</text>
<text class="tk" transform="translate(0,1205.9) scale(1,1.02)" x="79.52 112.89 129.56 162.93" y="0">0.04</text>
<text class="tk" transform="translate(0,1025.5) scale(1,1.02)" x="79.52 112.89 129.56 162.93" y="0">0.06</text>
<text class="tk" transform="translate(0,845.1) scale(1,1.02)" x="79.52 112.89 129.56 162.93" y="0">0.08</text>
<text class="tk" transform="translate(0,664.7) scale(1,1.02)" x="114.39 147.76 166.13" y="0">0.1</text>
<rect x="169.73" y="658.76" width="11.86" height="7.24" fill="#fff"/>
<rect x="186.07" y="658.76" width="11.38" height="7.24" fill="#fff"/>
<text class="tk" transform="translate(0,484.3) scale(1,1.02)" x="79.52 112.89 131.26 162.93" y="0">0.12</text>
<rect x="134.86" y="478.36" width="11.86" height="7.24" fill="#fff"/>
<rect x="151.20" y="478.36" width="11.38" height="7.24" fill="#fff"/>
<text class="tk" transform="translate(0,303.9) scale(1,1.02)" x="79.52 112.89 131.26 162.93" y="0">0.14</text>
<rect x="134.86" y="297.96" width="11.86" height="7.24" fill="#fff"/>
<rect x="151.20" y="297.96" width="11.38" height="7.24" fill="#fff"/>
<text class="tk" transform="translate(0,123.5) scale(1,1.02)" x="79.52 112.89 131.26 162.93" y="0">0.16</text>
<rect x="134.86" y="117.56" width="11.86" height="7.24" fill="#fff"/>
<rect x="151.20" y="117.56" width="11.38" height="7.24" fill="#fff"/>
<text class="ax" transform="translate(1045.5,1692) scale(0.985,1)" text-anchor="middle" font-size="80">y/p</text>
<text transform="translate(63,755) rotate(-90)" font-family="'Liberation Serif',serif" font-size="77" fill="#000">γ<tspan class="ax" font-size="47" dy="25">i</tspan></text>
</g>
</svg></body></html>
